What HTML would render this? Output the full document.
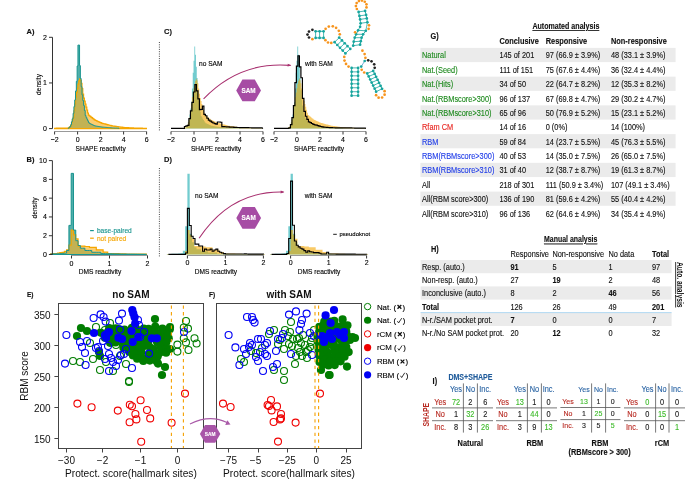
<!DOCTYPE html>
<html><head><meta charset="utf-8"><style>
html,body{margin:0;padding:0;background:#fff;}
svg{display:block;will-change:transform;}
text{font-family:"Liberation Sans", sans-serif;}
</style></head><body>
<svg width="685" height="486" viewBox="0 0 685 486">
<rect width="685" height="486" fill="#fff"/>
<path d="M54.60,128.60 L54.60,128.46 L55.40,128.46 L55.40,128.46 L56.21,128.46 L56.21,128.46 L57.01,128.46 L57.01,128.45 L57.82,128.45 L57.82,128.45 L58.62,128.45 L58.62,128.45 L59.43,128.45 L59.43,128.45 L60.23,128.45 L60.23,128.44 L61.04,128.44 L61.04,128.44 L61.84,128.44 L61.84,128.44 L62.65,128.44 L62.65,128.44 L63.45,128.44 L63.45,128.43 L64.26,128.43 L64.26,128.43 L65.06,128.43 L65.06,128.43 L65.87,128.43 L65.87,128.42 L66.67,128.42 L66.67,128.42 L67.48,128.42 L67.48,128.42 L68.28,128.42 L68.28,128.15 L69.09,128.15 L69.09,127.42 L69.89,127.42 L69.89,126.68 L70.70,126.68 L70.70,124.80 L71.50,124.80 L71.50,121.76 L72.31,121.76 L72.31,118.73 L73.11,118.73 L73.11,113.33 L73.92,113.33 L73.92,106.62 L74.72,106.62 L74.72,99.91 L75.53,99.91 L75.53,90.94 L76.33,90.94 L76.33,81.35 L77.14,81.35 L77.14,66.01 L77.94,66.01 L77.94,45.06 L78.75,45.06 L78.75,45.06 L79.55,45.06 L79.55,65.64 L80.36,65.64 L80.36,78.51 L81.16,78.51 L81.16,86.70 L81.97,86.70 L81.97,94.89 L82.77,94.89 L82.77,100.55 L83.58,100.55 L83.58,105.52 L84.38,105.52 L84.38,110.49 L85.19,110.49 L85.19,115.46 L86.00,115.46 L86.00,117.40 L86.80,117.40 L86.80,119.10 L87.60,119.10 L87.60,120.81 L88.41,120.81 L88.41,122.51 L89.22,122.51 L89.22,123.37 L90.02,123.37 L90.02,123.75 L90.83,123.75 L90.83,124.14 L91.63,124.14 L91.63,124.52 L92.44,124.52 L92.44,124.90 L93.24,124.90 L93.24,125.29 L94.04,125.29 L94.04,125.67 L94.85,125.67 L94.85,125.93 L95.66,125.93 L95.66,126.06 L96.46,126.06 L96.46,126.19 L97.27,126.19 L97.27,126.33 L98.07,126.33 L98.07,126.46 L98.88,126.46 L98.88,126.59 L99.68,126.59 L99.68,126.73 L100.48,126.73 L100.48,126.86 L101.29,126.86 L101.29,126.99 L102.09,126.99 L102.09,127.07 L102.90,127.07 L102.90,127.14 L103.70,127.14 L103.70,127.21 L104.51,127.21 L104.51,127.28 L105.31,127.28 L105.31,127.35 L106.12,127.35 L106.12,127.42 L106.93,127.42 L106.93,127.49 L107.73,127.49 L107.73,127.57 L108.53,127.57 L108.53,127.64 L109.34,127.64 L109.34,127.71 L110.14,127.71 L110.14,127.78 L110.95,127.78 L110.95,127.85 L111.75,127.85 L111.75,127.92 L112.56,127.92 L112.56,127.95 L113.36,127.95 L113.36,127.97 L114.17,127.97 L114.17,128.00 L114.97,128.00 L114.97,128.03 L115.78,128.03 L115.78,128.06 L116.59,128.06 L116.59,128.09 L117.39,128.09 L117.39,128.12 L118.19,128.12 L118.19,128.15 L119.00,128.15 L119.00,128.18 L119.81,128.18 L119.81,128.20 L120.61,128.20 L120.61,128.23 L121.41,128.23 L121.41,128.26 L122.22,128.26 L122.22,128.29 L123.03,128.29 L123.03,128.32 L123.83,128.32 L123.83,128.33 L124.64,128.33 L124.64,128.34 L125.44,128.34 L125.44,128.34 L126.25,128.34 L126.25,128.35 L127.05,128.35 L127.05,128.36 L127.86,128.36 L127.86,128.36 L128.66,128.36 L128.66,128.37 L129.47,128.37 L129.47,128.38 L130.27,128.38 L130.27,128.38 L131.07,128.38 L131.07,128.39 L131.88,128.39 L131.88,128.40 L132.69,128.40 L132.69,128.40 L133.49,128.40 L133.49,128.41 L134.30,128.41 L134.30,128.41 L135.10,128.41 L135.10,128.42 L135.91,128.42 L135.91,128.43 L136.71,128.43 L136.71,128.43 L137.51,128.43 L137.51,128.44 L138.32,128.44 L138.32,128.45 L139.12,128.45 L139.12,128.45 L139.93,128.45 L139.93,128.46 L140.74,128.46 L140.74,128.47 L141.54,128.47 L141.54,128.47 L142.34,128.47 L142.34,128.48 L143.15,128.48 L143.15,128.48 L143.95,128.48 L143.95,128.49 L144.76,128.49 L144.76,128.50 L145.56,128.50 L145.56,128.50 L146.37,128.50 L146.37,128.60 Z" fill="rgba(24,148,143,0.75)" stroke="none"/>
<path d="M54.60,128.60 L54.60,128.23 L55.40,128.23 L55.40,128.23 L56.21,128.23 L56.21,128.22 L57.01,128.22 L57.01,128.22 L57.82,128.22 L57.82,128.21 L58.62,128.21 L58.62,128.21 L59.43,128.21 L59.43,128.20 L60.23,128.20 L60.23,128.19 L61.04,128.19 L61.04,128.19 L61.84,128.19 L61.84,128.18 L62.65,128.18 L62.65,128.18 L63.45,128.18 L63.45,128.17 L64.26,128.17 L64.26,128.17 L65.06,128.17 L65.06,128.16 L65.87,128.16 L65.87,128.16 L66.67,128.16 L66.67,128.15 L67.48,128.15 L67.48,128.15 L68.28,128.15 L68.28,127.92 L69.09,127.92 L69.09,127.28 L69.89,127.28 L69.89,126.64 L70.70,126.64 L70.70,125.04 L71.50,125.04 L71.50,122.48 L72.31,122.48 L72.31,119.93 L73.11,119.93 L73.11,117.37 L73.92,117.37 L73.92,110.83 L74.72,110.83 L74.72,103.98 L75.53,103.98 L75.53,97.13 L76.33,97.13 L76.33,92.69 L77.14,92.69 L77.14,88.43 L77.94,88.43 L77.94,84.17 L78.75,84.17 L78.75,80.97 L79.55,80.97 L79.55,78.84 L80.36,78.84 L80.36,80.48 L81.16,80.48 L81.16,83.33 L81.97,83.33 L81.97,88.66 L82.77,88.66 L82.77,93.98 L83.58,93.98 L83.58,98.13 L84.38,98.13 L84.38,101.10 L85.19,101.10 L85.19,104.08 L86.00,104.08 L86.00,107.05 L86.80,107.05 L86.80,110.02 L87.60,110.02 L87.60,112.99 L88.41,112.99 L88.41,115.13 L89.22,115.13 L89.22,115.77 L90.02,115.77 L90.02,116.41 L90.83,116.41 L90.83,117.05 L91.63,117.05 L91.63,117.69 L92.44,117.69 L92.44,118.33 L93.24,118.33 L93.24,118.97 L94.04,118.97 L94.04,119.61 L94.85,119.61 L94.85,120.11 L95.66,120.11 L95.66,120.49 L96.46,120.49 L96.46,120.86 L97.27,120.86 L97.27,121.23 L98.07,121.23 L98.07,121.60 L98.88,121.60 L98.88,121.98 L99.68,121.98 L99.68,122.35 L100.48,122.35 L100.48,122.72 L101.29,122.72 L101.29,123.10 L102.09,123.10 L102.09,123.32 L102.90,123.32 L102.90,123.53 L103.70,123.53 L103.70,123.75 L104.51,123.75 L104.51,123.96 L105.31,123.96 L105.31,124.17 L106.12,124.17 L106.12,124.38 L106.93,124.38 L106.93,124.60 L107.73,124.60 L107.73,124.81 L108.53,124.81 L108.53,125.02 L109.34,125.02 L109.34,125.24 L110.14,125.24 L110.14,125.45 L110.95,125.45 L110.95,125.66 L111.75,125.66 L111.75,125.87 L112.56,125.87 L112.56,125.98 L113.36,125.98 L113.36,126.09 L114.17,126.09 L114.17,126.20 L114.97,126.20 L114.97,126.32 L115.78,126.32 L115.78,126.43 L116.59,126.43 L116.59,126.54 L117.39,126.54 L117.39,126.65 L118.19,126.65 L118.19,126.76 L119.00,126.76 L119.00,126.88 L119.81,126.88 L119.81,126.99 L120.61,126.99 L120.61,127.10 L121.41,127.10 L121.41,127.21 L122.22,127.21 L122.22,127.32 L123.03,127.32 L123.03,127.43 L123.83,127.43 L123.83,127.49 L124.64,127.49 L124.64,127.53 L125.44,127.53 L125.44,127.57 L126.25,127.57 L126.25,127.62 L127.05,127.62 L127.05,127.66 L127.86,127.66 L127.86,127.70 L128.66,127.70 L128.66,127.74 L129.47,127.74 L129.47,127.78 L130.27,127.78 L130.27,127.82 L131.07,127.82 L131.07,127.87 L131.88,127.87 L131.88,127.91 L132.69,127.91 L132.69,127.95 L133.49,127.95 L133.49,127.99 L134.30,127.99 L134.30,128.03 L135.10,128.03 L135.10,128.06 L135.91,128.06 L135.91,128.08 L136.71,128.08 L136.71,128.10 L137.51,128.10 L137.51,128.12 L138.32,128.12 L138.32,128.14 L139.12,128.14 L139.12,128.16 L139.93,128.16 L139.93,128.18 L140.74,128.18 L140.74,128.20 L141.54,128.20 L141.54,128.22 L142.34,128.22 L142.34,128.23 L143.15,128.23 L143.15,128.25 L143.95,128.25 L143.95,128.27 L144.76,128.27 L144.76,128.29 L145.56,128.29 L145.56,128.31 L146.37,128.31 L146.37,128.60 Z" fill="rgba(250,180,40,0.667)" stroke="#f5a600" stroke-width="1.2"/>
<path d="M68.28,128.60 L68.28,128.15 L69.09,128.15 L69.09,127.42 L69.89,127.42 L69.89,126.68 L70.70,126.68 L70.70,124.80 L71.50,124.80 L71.50,121.76 L72.31,121.76 L72.31,118.73 L73.11,118.73 L73.11,113.33 L73.92,113.33 L73.92,106.62 L74.72,106.62 L74.72,99.91 L75.53,99.91 L75.53,90.94 L76.33,90.94 L76.33,81.35 L77.14,81.35 L77.14,66.01 L77.94,66.01 L77.94,45.06 L78.75,45.06 L78.75,45.06 L79.55,45.06 L79.55,65.64 L80.36,65.64 L80.36,78.51 L81.16,78.51 L81.16,86.70 L81.97,86.70 L81.97,94.89 L82.77,94.89 L82.77,100.55 L83.58,100.55 L83.58,105.52 L84.38,105.52 L84.38,110.49 L85.19,110.49 L85.19,115.46 L86.00,115.46 L86.00,117.40 L86.80,117.40 L86.80,119.10 L87.60,119.10 L87.60,120.81 L88.41,120.81 L88.41,122.51 L89.22,122.51 L89.22,123.37 L90.02,123.37 L90.02,123.75 L90.83,123.75 L90.83,124.14 L91.63,124.14 L91.63,124.52 L92.44,124.52 L92.44,124.90 L93.24,124.90 L93.24,125.29 L94.04,125.29 L94.04,125.67 L94.85,125.67 L94.85,125.93 L95.66,125.93 L95.66,126.06 L96.46,126.06 L96.46,126.19 L97.27,126.19 L97.27,126.33 L98.07,126.33 L98.07,126.46 L98.88,126.46 L98.88,126.59 L99.68,126.59 L99.68,126.73 L100.48,126.73 L100.48,126.86 L101.29,126.86 L101.29,126.99 L102.09,126.99 L102.09,127.07 L102.90,127.07 L102.90,127.14 L103.70,127.14 L103.70,127.21 L104.51,127.21 L104.51,127.28 L105.31,127.28 L105.31,127.35 L106.12,127.35 L106.12,127.42 L106.93,127.42 L106.93,127.49 L107.73,127.49 L107.73,127.57 L108.53,127.57 L108.53,127.64 L109.34,127.64 L109.34,127.71 L110.14,127.71 L110.14,127.78 L110.95,127.78 L110.95,127.85 L111.75,127.85 L111.75,127.92 L112.56,127.92 L112.56,127.95 L113.36,127.95 L113.36,127.97 L114.17,127.97 L114.17,128.00 L114.97,128.00 L114.97,128.03 L115.78,128.03 L115.78,128.06 L116.59,128.06 L116.59,128.09 L117.39,128.09 L117.39,128.12 L118.19,128.12 L118.19,128.15 L119.00,128.15 L119.00,128.60" fill="none" stroke="#18948f" stroke-width="1"/>
<line x1="52.50" y1="37.30" x2="52.50" y2="128.60" stroke="#333" stroke-width="1"/>
<line x1="49.00" y1="128.60" x2="52.50" y2="128.60" stroke="#333" stroke-width="1"/>
<text x="47.00" y="131.12" font-size="7" text-anchor="end" fill="#000" stroke="#000" stroke-width="0.12">0</text>
<line x1="49.00" y1="82.95" x2="52.50" y2="82.95" stroke="#333" stroke-width="1"/>
<text x="47.00" y="85.47" font-size="7" text-anchor="end" fill="#000" stroke="#000" stroke-width="0.12">1</text>
<line x1="49.00" y1="37.30" x2="52.50" y2="37.30" stroke="#333" stroke-width="1"/>
<text x="47.00" y="39.82" font-size="7" text-anchor="end" fill="#000" stroke="#000" stroke-width="0.12">2</text>
<line x1="54.60" y1="131.50" x2="146.60" y2="131.50" stroke="#999" stroke-width="1"/>
<line x1="54.60" y1="131.50" x2="54.60" y2="134.50" stroke="#333" stroke-width="1"/>
<text x="54.60" y="142.32" font-size="7" text-anchor="middle" fill="#000" stroke="#000" stroke-width="0.12">−2</text>
<line x1="77.60" y1="131.50" x2="77.60" y2="134.50" stroke="#333" stroke-width="1"/>
<text x="77.60" y="142.32" font-size="7" text-anchor="middle" fill="#000" stroke="#000" stroke-width="0.12">0</text>
<line x1="100.60" y1="131.50" x2="100.60" y2="134.50" stroke="#333" stroke-width="1"/>
<text x="100.60" y="142.32" font-size="7" text-anchor="middle" fill="#000" stroke="#000" stroke-width="0.12">2</text>
<line x1="123.60" y1="131.50" x2="123.60" y2="134.50" stroke="#333" stroke-width="1"/>
<text x="123.60" y="142.32" font-size="7" text-anchor="middle" fill="#000" stroke="#000" stroke-width="0.12">4</text>
<line x1="146.60" y1="131.50" x2="146.60" y2="134.50" stroke="#333" stroke-width="1"/>
<text x="146.60" y="142.32" font-size="7" text-anchor="middle" fill="#000" stroke="#000" stroke-width="0.12">6</text>
<text x="100.60" y="150.78" font-size="6.6" text-anchor="middle" fill="#000" stroke="#000" stroke-width="0.12">SHAPE reactivity</text>
<text transform="translate(38.40,84.50) rotate(-90) scale(1.0,1)" y="2.38" font-size="6.6" text-anchor="middle" fill="#000" stroke="#000" stroke-width="0.12">density</text>
<text x="26.50" y="34.20" font-size="7.5" text-anchor="start" fill="#111" font-weight="bold" stroke="#111" stroke-width="0.12">A)</text>
<path d="M50.68,254.50 L50.68,253.95 L52.96,253.95 L52.96,253.90 L55.24,253.90 L55.24,253.84 L57.52,253.84 L57.52,253.78 L59.80,253.78 L59.80,253.65 L62.08,253.65 L62.08,253.39 L64.36,253.39 L64.36,253.13 L66.64,253.13 L66.64,250.46 L68.92,250.46 L68.92,225.39 L71.20,225.39 L71.20,173.37 L73.48,173.37 L73.48,230.09 L75.76,230.09 L75.76,240.70 L78.04,240.70 L78.04,245.49 L80.32,245.49 L80.32,248.21 L82.60,248.21 L82.60,248.21 L84.88,248.21 L84.88,250.46 L87.16,250.46 L87.16,250.46 L89.44,250.46 L89.44,250.46 L91.72,250.46 L91.72,252.25 L94.00,252.25 L94.00,252.25 L96.28,252.25 L96.28,252.25 L98.56,252.25 L98.56,252.25 L100.84,252.25 L100.84,253.59 L103.12,253.59 L103.12,253.64 L105.40,253.64 L105.40,253.69 L107.68,253.69 L107.68,253.73 L109.96,253.73 L109.96,253.79 L112.24,253.79 L112.24,253.84 L114.52,253.84 L114.52,253.90 L116.80,253.90 L116.80,253.96 L119.08,253.96 L119.08,254.01 L121.36,254.01 L121.36,254.05 L123.64,254.05 L123.64,254.07 L125.92,254.07 L125.92,254.10 L128.20,254.10 L128.20,254.12 L130.48,254.12 L130.48,254.14 L132.76,254.14 L132.76,254.17 L135.04,254.17 L135.04,254.19 L137.32,254.19 L137.32,254.22 L139.60,254.22 L139.60,254.24 L141.88,254.24 L141.88,254.26 L144.16,254.26 L144.16,254.29 L146.44,254.29 L146.44,254.50 Z" fill="rgba(24,148,143,0.75)" stroke="none"/>
<path d="M50.68,254.50 L50.68,253.78 L52.96,253.78 L52.96,253.67 L55.24,253.67 L55.24,253.55 L57.52,253.55 L57.52,253.12 L59.80,253.12 L59.80,252.70 L62.08,252.70 L62.08,252.28 L64.36,252.28 L64.36,251.41 L66.64,251.41 L66.64,249.81 L68.92,249.81 L68.92,245.11 L71.20,245.11 L71.20,230.09 L73.48,230.09 L73.48,234.78 L75.76,234.78 L75.76,238.91 L78.04,238.91 L78.04,246.05 L80.32,246.05 L80.32,246.05 L82.60,246.05 L82.60,246.05 L84.88,246.05 L84.88,246.52 L87.16,246.52 L87.16,246.52 L89.44,246.52 L89.44,247.46 L91.72,247.46 L91.72,247.46 L94.00,247.46 L94.00,247.46 L96.28,247.46 L96.28,249.81 L98.56,249.81 L98.56,249.81 L100.84,249.81 L100.84,249.81 L103.12,249.81 L103.12,252.15 L105.40,252.15 L105.40,252.15 L107.68,252.15 L107.68,253.57 L109.96,253.57 L109.96,253.60 L112.24,253.60 L112.24,253.64 L114.52,253.64 L114.52,253.67 L116.80,253.67 L116.80,253.70 L119.08,253.70 L119.08,253.74 L121.36,253.74 L121.36,253.81 L123.64,253.81 L123.64,253.89 L125.92,253.89 L125.92,253.98 L128.20,253.98 L128.20,254.03 L130.48,254.03 L130.48,254.05 L132.76,254.05 L132.76,254.06 L135.04,254.06 L135.04,254.07 L137.32,254.07 L137.32,254.08 L139.60,254.08 L139.60,254.09 L141.88,254.09 L141.88,254.10 L144.16,254.10 L144.16,254.11 L146.44,254.11 L146.44,254.50 Z" fill="rgba(250,180,40,0.667)" stroke="#f5a600" stroke-width="1.2"/>
<path d="M50.68,254.50 L50.68,253.95 L52.96,253.95 L52.96,253.90 L55.24,253.90 L55.24,253.84 L57.52,253.84 L57.52,253.78 L59.80,253.78 L59.80,253.65 L62.08,253.65 L62.08,253.39 L64.36,253.39 L64.36,253.13 L66.64,253.13 L66.64,250.46 L68.92,250.46 L68.92,225.39 L71.20,225.39 L71.20,173.37 L73.48,173.37 L73.48,230.09 L75.76,230.09 L75.76,240.70 L78.04,240.70 L78.04,245.49 L80.32,245.49 L80.32,248.21 L82.60,248.21 L82.60,248.21 L84.88,248.21 L84.88,250.46 L87.16,250.46 L87.16,250.46 L89.44,250.46 L89.44,250.46 L91.72,250.46 L91.72,252.25 L94.00,252.25 L94.00,252.25 L96.28,252.25 L96.28,252.25 L98.56,252.25 L98.56,252.25 L100.84,252.25 L100.84,253.59 L103.12,253.59 L103.12,253.64 L105.40,253.64 L105.40,253.69 L107.68,253.69 L107.68,253.73 L109.96,253.73 L109.96,253.79 L112.24,253.79 L112.24,253.84 L114.52,253.84 L114.52,253.90 L116.80,253.90 L116.80,253.96 L119.08,253.96 L119.08,254.01 L121.36,254.01 L121.36,254.05 L123.64,254.05 L123.64,254.07 L125.92,254.07 L125.92,254.10 L128.20,254.10 L128.20,254.12 L130.48,254.12 L130.48,254.14 L132.76,254.14 L132.76,254.17 L135.04,254.17 L135.04,254.19 L137.32,254.19 L137.32,254.22 L139.60,254.22 L139.60,254.24 L141.88,254.24 L141.88,254.26 L144.16,254.26 L144.16,254.29 L146.44,254.29 L146.44,254.50 Z" fill="none" stroke="#18948f" stroke-width="1"/>
<line x1="52.40" y1="160.60" x2="52.40" y2="254.50" stroke="#333" stroke-width="1"/>
<line x1="48.90" y1="254.50" x2="52.40" y2="254.50" stroke="#333" stroke-width="1"/>
<text x="46.90" y="257.02" font-size="7" text-anchor="end" fill="#000" stroke="#000" stroke-width="0.12">0</text>
<line x1="48.90" y1="235.72" x2="52.40" y2="235.72" stroke="#333" stroke-width="1"/>
<text x="46.90" y="238.24" font-size="7" text-anchor="end" fill="#000" stroke="#000" stroke-width="0.12">2</text>
<line x1="48.90" y1="216.94" x2="52.40" y2="216.94" stroke="#333" stroke-width="1"/>
<text x="46.90" y="219.46" font-size="7" text-anchor="end" fill="#000" stroke="#000" stroke-width="0.12">4</text>
<line x1="48.90" y1="198.16" x2="52.40" y2="198.16" stroke="#333" stroke-width="1"/>
<text x="46.90" y="200.68" font-size="7" text-anchor="end" fill="#000" stroke="#000" stroke-width="0.12">6</text>
<line x1="48.90" y1="179.38" x2="52.40" y2="179.38" stroke="#333" stroke-width="1"/>
<text x="46.90" y="181.90" font-size="7" text-anchor="end" fill="#000" stroke="#000" stroke-width="0.12">8</text>
<line x1="48.90" y1="160.60" x2="52.40" y2="160.60" stroke="#333" stroke-width="1"/>
<text x="46.90" y="163.12" font-size="7" text-anchor="end" fill="#000" stroke="#000" stroke-width="0.12">10</text>
<line x1="71.50" y1="255.50" x2="147.50" y2="255.50" stroke="#999" stroke-width="1"/>
<line x1="71.50" y1="255.50" x2="71.50" y2="258.50" stroke="#333" stroke-width="1"/>
<text x="71.50" y="265.92" font-size="7" text-anchor="middle" fill="#000" stroke="#000" stroke-width="0.12">0</text>
<line x1="109.50" y1="255.50" x2="109.50" y2="258.50" stroke="#333" stroke-width="1"/>
<text x="109.50" y="265.92" font-size="7" text-anchor="middle" fill="#000" stroke="#000" stroke-width="0.12">1</text>
<line x1="147.50" y1="255.50" x2="147.50" y2="258.50" stroke="#333" stroke-width="1"/>
<text x="147.50" y="265.92" font-size="7" text-anchor="middle" fill="#000" stroke="#000" stroke-width="0.12">2</text>
<text x="100.00" y="274.38" font-size="6.6" text-anchor="middle" fill="#000" stroke="#000" stroke-width="0.12">DMS reactivity</text>
<text transform="translate(34.40,208.00) rotate(-90) scale(1.0,1)" y="2.38" font-size="6.6" text-anchor="middle" fill="#000" stroke="#000" stroke-width="0.12">density</text>
<text x="26.50" y="162.30" font-size="7.5" text-anchor="start" fill="#111" font-weight="bold" stroke="#111" stroke-width="0.12">B)</text>
<line x1="90.10" y1="230.60" x2="93.80" y2="230.60" stroke="#18948f" stroke-width="1.2"/>
<text x="96.90" y="232.98" font-size="6.6" text-anchor="start" fill="#18948f" stroke="#18948f" stroke-width="0.12">base-paired</text>
<line x1="90.10" y1="238.20" x2="93.80" y2="238.20" stroke="#f5a600" stroke-width="1.2"/>
<text x="96.90" y="240.58" font-size="6.6" text-anchor="start" fill="#f5a600" stroke="#f5a600" stroke-width="0.12">not paired</text>
<path d="M171.00,128.40 L171.00,128.40 L171.81,128.40 L171.81,128.40 L172.61,128.40 L172.61,128.40 L173.41,128.40 L173.41,128.40 L174.22,128.40 L174.22,128.40 L175.03,128.40 L175.03,128.40 L175.83,128.40 L175.83,128.40 L176.63,128.40 L176.63,128.40 L177.44,128.40 L177.44,128.40 L178.25,128.40 L178.25,128.40 L179.05,128.40 L179.05,128.40 L179.85,128.40 L179.85,128.40 L180.66,128.40 L180.66,128.40 L181.47,128.40 L181.47,128.40 L182.27,128.40 L182.27,128.40 L183.07,128.40 L183.07,128.40 L183.88,128.40 L183.88,128.40 L184.69,128.40 L184.69,128.17 L185.49,128.17 L185.49,127.53 L186.29,127.53 L186.29,126.89 L187.10,126.89 L187.10,125.14 L187.91,125.14 L187.91,122.26 L188.71,122.26 L188.71,119.38 L189.52,119.38 L189.52,114.45 L190.32,114.45 L190.32,108.38 L191.12,108.38 L191.12,102.31 L191.93,102.31 L191.93,88.46 L192.74,88.46 L192.74,72.76 L193.54,72.76 L193.54,60.78 L194.34,60.78 L194.34,46.57 L195.15,46.57 L195.15,54.79 L195.96,54.79 L195.96,66.77 L196.76,66.77 L196.76,78.01 L197.56,78.01 L197.56,90.30 L198.37,90.30 L198.37,99.50 L199.18,99.50 L199.18,105.60 L199.98,105.60 L199.98,111.70 L200.78,111.70 L200.78,116.07 L201.59,116.07 L201.59,117.35 L202.40,117.35 L202.40,118.63 L203.20,118.63 L203.20,119.91 L204.00,119.91 L204.00,121.19 L204.81,121.19 L204.81,122.47 L205.62,122.47 L205.62,123.17 L206.42,123.17 L206.42,123.55 L207.22,123.55 L207.22,123.94 L208.03,123.94 L208.03,124.32 L208.84,124.32 L208.84,124.70 L209.64,124.70 L209.64,125.09 L210.44,125.09 L210.44,125.47 L211.25,125.47 L211.25,125.73 L212.06,125.73 L212.06,125.86 L212.86,125.86 L212.86,125.99 L213.67,125.99 L213.67,126.13 L214.47,126.13 L214.47,126.26 L215.28,126.26 L215.28,126.39 L216.08,126.39 L216.08,126.53 L216.88,126.53 L216.88,126.66 L217.69,126.66 L217.69,126.79 L218.50,126.79 L218.50,126.87 L219.30,126.87 L219.30,126.94 L220.11,126.94 L220.11,127.01 L220.91,127.01 L220.91,127.08 L221.72,127.08 L221.72,127.15 L222.52,127.15 L222.52,127.22 L223.33,127.22 L223.33,127.29 L224.13,127.29 L224.13,127.37 L224.94,127.37 L224.94,127.44 L225.74,127.44 L225.74,127.51 L226.55,127.51 L226.55,127.58 L227.35,127.58 L227.35,127.65 L228.16,127.65 L228.16,127.72 L228.96,127.72 L228.96,127.75 L229.76,127.75 L229.76,127.77 L230.57,127.77 L230.57,127.80 L231.38,127.80 L231.38,127.83 L232.18,127.83 L232.18,127.86 L232.99,127.86 L232.99,127.89 L233.79,127.89 L233.79,127.92 L234.59,127.92 L234.59,127.95 L235.40,127.95 L235.40,127.98 L236.21,127.98 L236.21,128.00 L237.01,128.00 L237.01,128.03 L237.81,128.03 L237.81,128.06 L238.62,128.06 L238.62,128.09 L239.43,128.09 L239.43,128.12 L240.23,128.12 L240.23,128.13 L241.04,128.13 L241.04,128.14 L241.84,128.14 L241.84,128.14 L242.65,128.14 L242.65,128.15 L243.45,128.15 L243.45,128.16 L244.25,128.16 L244.25,128.16 L245.06,128.16 L245.06,128.17 L245.87,128.17 L245.87,128.18 L246.67,128.18 L246.67,128.18 L247.47,128.18 L247.47,128.19 L248.28,128.19 L248.28,128.20 L249.09,128.20 L249.09,128.20 L249.89,128.20 L249.89,128.21 L250.69,128.21 L250.69,128.21 L251.50,128.21 L251.50,128.22 L252.31,128.22 L252.31,128.23 L253.11,128.23 L253.11,128.23 L253.92,128.23 L253.92,128.24 L254.72,128.24 L254.72,128.25 L255.53,128.25 L255.53,128.25 L256.33,128.25 L256.33,128.26 L257.13,128.26 L257.13,128.27 L257.94,128.27 L257.94,128.27 L258.75,128.27 L258.75,128.28 L259.55,128.28 L259.55,128.28 L260.36,128.28 L260.36,128.29 L261.16,128.29 L261.16,128.30 L261.97,128.30 L261.97,128.30 L262.77,128.30 L262.77,128.40 Z" fill="rgba(20,170,175,0.6)" stroke="none"/>
<path d="M171.00,128.40 L171.00,128.03 L171.81,128.03 L171.81,128.03 L172.61,128.03 L172.61,128.02 L173.41,128.02 L173.41,128.02 L174.22,128.02 L174.22,128.01 L175.03,128.01 L175.03,128.01 L175.83,128.01 L175.83,128.00 L176.63,128.00 L176.63,127.99 L177.44,127.99 L177.44,127.99 L178.25,127.99 L178.25,127.98 L179.05,127.98 L179.05,127.98 L179.85,127.98 L179.85,127.97 L180.66,127.97 L180.66,127.97 L181.47,127.97 L181.47,127.96 L182.27,127.96 L182.27,127.96 L183.07,127.96 L183.07,127.95 L183.88,127.95 L183.88,127.95 L184.69,127.95 L184.69,127.72 L185.49,127.72 L185.49,127.08 L186.29,127.08 L186.29,126.44 L187.10,126.44 L187.10,124.84 L187.91,124.84 L187.91,122.28 L188.71,122.28 L188.71,119.73 L189.52,119.73 L189.52,117.17 L190.32,117.17 L190.32,110.63 L191.12,110.63 L191.12,103.78 L191.93,103.78 L191.93,96.93 L192.74,96.93 L192.74,92.49 L193.54,92.49 L193.54,88.23 L194.34,88.23 L194.34,83.97 L195.15,83.97 L195.15,80.77 L195.96,80.77 L195.96,78.64 L196.76,78.64 L196.76,80.28 L197.56,80.28 L197.56,83.13 L198.37,83.13 L198.37,88.46 L199.18,88.46 L199.18,93.78 L199.98,93.78 L199.98,97.93 L200.78,97.93 L200.78,100.90 L201.59,100.90 L201.59,103.88 L202.40,103.88 L202.40,106.85 L203.20,106.85 L203.20,109.82 L204.00,109.82 L204.00,112.79 L204.81,112.79 L204.81,114.93 L205.62,114.93 L205.62,115.57 L206.42,115.57 L206.42,116.21 L207.22,116.21 L207.22,116.85 L208.03,116.85 L208.03,117.49 L208.84,117.49 L208.84,118.13 L209.64,118.13 L209.64,118.77 L210.44,118.77 L210.44,119.41 L211.25,119.41 L211.25,119.91 L212.06,119.91 L212.06,120.29 L212.86,120.29 L212.86,120.66 L213.67,120.66 L213.67,121.03 L214.47,121.03 L214.47,121.40 L215.28,121.40 L215.28,121.78 L216.08,121.78 L216.08,122.15 L216.88,122.15 L216.88,122.52 L217.69,122.52 L217.69,122.90 L218.50,122.90 L218.50,123.12 L219.30,123.12 L219.30,123.33 L220.11,123.33 L220.11,123.55 L220.91,123.55 L220.91,123.76 L221.72,123.76 L221.72,123.97 L222.52,123.97 L222.52,124.18 L223.33,124.18 L223.33,124.40 L224.13,124.40 L224.13,124.61 L224.94,124.61 L224.94,124.82 L225.74,124.82 L225.74,125.04 L226.55,125.04 L226.55,125.25 L227.35,125.25 L227.35,125.46 L228.16,125.46 L228.16,125.67 L228.96,125.67 L228.96,125.78 L229.76,125.78 L229.76,125.89 L230.57,125.89 L230.57,126.00 L231.38,126.00 L231.38,126.12 L232.18,126.12 L232.18,126.23 L232.99,126.23 L232.99,126.34 L233.79,126.34 L233.79,126.45 L234.59,126.45 L234.59,126.56 L235.40,126.56 L235.40,126.68 L236.21,126.68 L236.21,126.79 L237.01,126.79 L237.01,126.90 L237.81,126.90 L237.81,127.01 L238.62,127.01 L238.62,127.12 L239.43,127.12 L239.43,127.23 L240.23,127.23 L240.23,127.29 L241.04,127.29 L241.04,127.33 L241.84,127.33 L241.84,127.37 L242.65,127.37 L242.65,127.42 L243.45,127.42 L243.45,127.46 L244.25,127.46 L244.25,127.50 L245.06,127.50 L245.06,127.54 L245.87,127.54 L245.87,127.58 L246.67,127.58 L246.67,127.62 L247.47,127.62 L247.47,127.67 L248.28,127.67 L248.28,127.71 L249.09,127.71 L249.09,127.75 L249.89,127.75 L249.89,127.79 L250.69,127.79 L250.69,127.83 L251.50,127.83 L251.50,127.86 L252.31,127.86 L252.31,127.88 L253.11,127.88 L253.11,127.90 L253.92,127.90 L253.92,127.92 L254.72,127.92 L254.72,127.94 L255.53,127.94 L255.53,127.96 L256.33,127.96 L256.33,127.98 L257.13,127.98 L257.13,128.00 L257.94,128.00 L257.94,128.02 L258.75,128.02 L258.75,128.03 L259.55,128.03 L259.55,128.05 L260.36,128.05 L260.36,128.07 L261.16,128.07 L261.16,128.09 L261.97,128.09 L261.97,128.11 L262.77,128.11 L262.77,128.40 Z" fill="rgba(245,166,0,0.6)" stroke="none"/>
<path d="M171.00,128.40 L171.00,128.40 L172.50,128.40 L172.50,128.40 L173.99,128.40 L173.99,128.40 L175.49,128.40 L175.49,128.40 L176.98,128.40 L176.98,128.40 L178.47,128.40 L178.47,128.40 L179.97,128.40 L179.97,128.40 L181.47,128.40 L181.47,128.40 L182.96,128.40 L182.96,128.32 L184.45,128.32 L184.45,126.51 L185.95,126.51 L185.95,125.91 L187.44,125.91 L187.44,125.32 L188.94,125.32 L188.94,118.61 L190.44,118.61 L190.44,110.82 L191.93,110.82 L191.93,102.30 L193.43,102.30 L193.43,92.00 L194.92,92.00 L194.92,84.60 L196.41,84.60 L196.41,90.97 L197.91,90.97 L197.91,98.96 L199.41,98.96 L199.41,109.64 L200.90,109.64 L200.90,109.29 L202.40,109.29 L202.40,106.03 L203.89,106.03 L203.89,114.44 L205.38,114.44 L205.38,115.73 L206.88,115.73 L206.88,118.24 L208.38,118.24 L208.38,120.21 L209.87,120.21 L209.87,121.17 L211.37,121.17 L211.37,122.14 L212.86,122.14 L212.86,122.98 L214.35,122.98 L214.35,123.65 L215.85,123.65 L215.85,124.16 L217.34,124.16 L217.34,122.01 L218.84,122.01 L218.84,122.01 L220.34,122.01 L220.34,122.24 L221.83,122.24 L221.83,126.60 L223.32,126.60 L223.32,126.69 L224.82,126.69 L224.82,126.77 L226.31,126.77 L226.31,126.86 L227.81,126.86 L227.81,126.95 L229.31,126.95 L229.31,127.04 L230.80,127.04 L230.80,127.13 L232.30,127.13 L232.30,127.21 L233.79,127.21 L233.79,127.30 L235.28,127.30 L235.28,127.39 L236.78,127.39 L236.78,127.48 L238.28,127.48 L238.28,127.51 L239.77,127.51 L239.77,127.55 L241.26,127.55 L241.26,127.58 L242.76,127.58 L242.76,127.61 L244.25,127.61 L244.25,127.64 L245.75,127.64 L245.75,127.67 L247.25,127.67 L247.25,127.70 L248.74,127.70 L248.74,127.73 L250.24,127.73 L250.24,127.76 L251.73,127.76 L251.73,127.80 L253.22,127.80 L253.22,127.83 L254.72,127.83 L254.72,127.86 L256.22,127.86 L256.22,127.89 L257.71,127.89 L257.71,127.92 L259.20,127.92 L259.20,127.94 L260.70,127.94 L260.70,127.94 L262.19,127.94 L263.00,128.40" fill="none" stroke="#000" stroke-width="1.2"/>
<line x1="171.00" y1="131.50" x2="263.00" y2="131.50" stroke="#999" stroke-width="1"/>
<line x1="171.00" y1="131.50" x2="171.00" y2="134.50" stroke="#333" stroke-width="1"/>
<text x="171.00" y="142.32" font-size="7" text-anchor="middle" fill="#000" stroke="#000" stroke-width="0.12">−2</text>
<line x1="194.00" y1="131.50" x2="194.00" y2="134.50" stroke="#333" stroke-width="1"/>
<text x="194.00" y="142.32" font-size="7" text-anchor="middle" fill="#000" stroke="#000" stroke-width="0.12">0</text>
<line x1="217.00" y1="131.50" x2="217.00" y2="134.50" stroke="#333" stroke-width="1"/>
<text x="217.00" y="142.32" font-size="7" text-anchor="middle" fill="#000" stroke="#000" stroke-width="0.12">2</text>
<line x1="240.00" y1="131.50" x2="240.00" y2="134.50" stroke="#333" stroke-width="1"/>
<text x="240.00" y="142.32" font-size="7" text-anchor="middle" fill="#000" stroke="#000" stroke-width="0.12">4</text>
<line x1="263.00" y1="131.50" x2="263.00" y2="134.50" stroke="#333" stroke-width="1"/>
<text x="263.00" y="142.32" font-size="7" text-anchor="middle" fill="#000" stroke="#000" stroke-width="0.12">6</text>
<text x="216.00" y="150.78" font-size="6.6" text-anchor="middle" fill="#000" stroke="#000" stroke-width="0.12">SHAPE reactivity</text>
<text x="199.00" y="65.78" font-size="6.6" text-anchor="start" fill="#000" stroke="#000" stroke-width="0.12">no SAM</text>
<path d="M274.00,128.40 L274.00,128.40 L274.81,128.40 L274.81,128.40 L275.61,128.40 L275.61,128.40 L276.42,128.40 L276.42,128.40 L277.22,128.40 L277.22,128.40 L278.02,128.40 L278.02,128.40 L278.83,128.40 L278.83,128.40 L279.63,128.40 L279.63,128.40 L280.44,128.40 L280.44,128.40 L281.25,128.40 L281.25,128.40 L282.05,128.40 L282.05,128.40 L282.86,128.40 L282.86,128.40 L283.66,128.40 L283.66,128.40 L284.46,128.40 L284.46,128.40 L285.27,128.40 L285.27,128.40 L286.07,128.40 L286.07,128.40 L286.88,128.40 L286.88,128.40 L287.69,128.40 L287.69,128.17 L288.49,128.17 L288.49,127.53 L289.30,127.53 L289.30,126.89 L290.10,126.89 L290.10,125.14 L290.91,125.14 L290.91,122.26 L291.71,122.26 L291.71,119.38 L292.51,119.38 L292.51,114.45 L293.32,114.45 L293.32,108.38 L294.12,108.38 L294.12,102.31 L294.93,102.31 L294.93,88.46 L295.74,88.46 L295.74,72.76 L296.54,72.76 L296.54,60.78 L297.35,60.78 L297.35,46.57 L298.15,46.57 L298.15,54.79 L298.95,54.79 L298.95,66.77 L299.76,66.77 L299.76,78.01 L300.56,78.01 L300.56,90.30 L301.37,90.30 L301.37,99.50 L302.18,99.50 L302.18,105.60 L302.98,105.60 L302.98,111.70 L303.79,111.70 L303.79,116.07 L304.59,116.07 L304.59,117.35 L305.39,117.35 L305.39,118.63 L306.20,118.63 L306.20,119.91 L307.00,119.91 L307.00,121.19 L307.81,121.19 L307.81,122.47 L308.62,122.47 L308.62,123.17 L309.42,123.17 L309.42,123.55 L310.23,123.55 L310.23,123.94 L311.03,123.94 L311.03,124.32 L311.83,124.32 L311.83,124.70 L312.64,124.70 L312.64,125.09 L313.44,125.09 L313.44,125.47 L314.25,125.47 L314.25,125.73 L315.06,125.73 L315.06,125.86 L315.86,125.86 L315.86,125.99 L316.67,125.99 L316.67,126.13 L317.47,126.13 L317.47,126.26 L318.27,126.26 L318.27,126.39 L319.08,126.39 L319.08,126.53 L319.88,126.53 L319.88,126.66 L320.69,126.66 L320.69,126.79 L321.50,126.79 L321.50,126.87 L322.30,126.87 L322.30,126.94 L323.11,126.94 L323.11,127.01 L323.91,127.01 L323.91,127.08 L324.72,127.08 L324.72,127.15 L325.52,127.15 L325.52,127.22 L326.32,127.22 L326.32,127.29 L327.13,127.29 L327.13,127.37 L327.94,127.37 L327.94,127.44 L328.74,127.44 L328.74,127.51 L329.55,127.51 L329.55,127.58 L330.35,127.58 L330.35,127.65 L331.16,127.65 L331.16,127.72 L331.96,127.72 L331.96,127.75 L332.76,127.75 L332.76,127.77 L333.57,127.77 L333.57,127.80 L334.38,127.80 L334.38,127.83 L335.18,127.83 L335.18,127.86 L335.99,127.86 L335.99,127.89 L336.79,127.89 L336.79,127.92 L337.60,127.92 L337.60,127.95 L338.40,127.95 L338.40,127.98 L339.21,127.98 L339.21,128.00 L340.01,128.00 L340.01,128.03 L340.81,128.03 L340.81,128.06 L341.62,128.06 L341.62,128.09 L342.43,128.09 L342.43,128.12 L343.23,128.12 L343.23,128.13 L344.04,128.13 L344.04,128.14 L344.84,128.14 L344.84,128.14 L345.64,128.14 L345.64,128.15 L346.45,128.15 L346.45,128.16 L347.25,128.16 L347.25,128.16 L348.06,128.16 L348.06,128.17 L348.87,128.17 L348.87,128.18 L349.67,128.18 L349.67,128.18 L350.48,128.18 L350.48,128.19 L351.28,128.19 L351.28,128.20 L352.09,128.20 L352.09,128.20 L352.89,128.20 L352.89,128.21 L353.69,128.21 L353.69,128.21 L354.50,128.21 L354.50,128.22 L355.31,128.22 L355.31,128.23 L356.11,128.23 L356.11,128.23 L356.92,128.23 L356.92,128.24 L357.72,128.24 L357.72,128.25 L358.52,128.25 L358.52,128.25 L359.33,128.25 L359.33,128.26 L360.13,128.26 L360.13,128.27 L360.94,128.27 L360.94,128.27 L361.75,128.27 L361.75,128.28 L362.55,128.28 L362.55,128.28 L363.36,128.28 L363.36,128.29 L364.16,128.29 L364.16,128.30 L364.97,128.30 L364.97,128.30 L365.77,128.30 L365.77,128.40 Z" fill="rgba(20,170,175,0.6)" stroke="none"/>
<path d="M274.00,128.40 L274.00,128.03 L274.81,128.03 L274.81,128.03 L275.61,128.03 L275.61,128.02 L276.42,128.02 L276.42,128.02 L277.22,128.02 L277.22,128.01 L278.02,128.01 L278.02,128.01 L278.83,128.01 L278.83,128.00 L279.63,128.00 L279.63,127.99 L280.44,127.99 L280.44,127.99 L281.25,127.99 L281.25,127.98 L282.05,127.98 L282.05,127.98 L282.86,127.98 L282.86,127.97 L283.66,127.97 L283.66,127.97 L284.46,127.97 L284.46,127.96 L285.27,127.96 L285.27,127.96 L286.07,127.96 L286.07,127.95 L286.88,127.95 L286.88,127.95 L287.69,127.95 L287.69,127.72 L288.49,127.72 L288.49,127.08 L289.30,127.08 L289.30,126.44 L290.10,126.44 L290.10,124.84 L290.91,124.84 L290.91,122.28 L291.71,122.28 L291.71,119.73 L292.51,119.73 L292.51,117.17 L293.32,117.17 L293.32,110.63 L294.12,110.63 L294.12,103.78 L294.93,103.78 L294.93,96.93 L295.74,96.93 L295.74,92.49 L296.54,92.49 L296.54,88.23 L297.35,88.23 L297.35,83.97 L298.15,83.97 L298.15,80.77 L298.95,80.77 L298.95,78.64 L299.76,78.64 L299.76,80.28 L300.56,80.28 L300.56,83.13 L301.37,83.13 L301.37,88.46 L302.18,88.46 L302.18,93.78 L302.98,93.78 L302.98,97.93 L303.79,97.93 L303.79,100.90 L304.59,100.90 L304.59,103.88 L305.39,103.88 L305.39,106.85 L306.20,106.85 L306.20,109.82 L307.00,109.82 L307.00,112.79 L307.81,112.79 L307.81,114.93 L308.62,114.93 L308.62,115.57 L309.42,115.57 L309.42,116.21 L310.23,116.21 L310.23,116.85 L311.03,116.85 L311.03,117.49 L311.83,117.49 L311.83,118.13 L312.64,118.13 L312.64,118.77 L313.44,118.77 L313.44,119.41 L314.25,119.41 L314.25,119.91 L315.06,119.91 L315.06,120.29 L315.86,120.29 L315.86,120.66 L316.67,120.66 L316.67,121.03 L317.47,121.03 L317.47,121.40 L318.27,121.40 L318.27,121.78 L319.08,121.78 L319.08,122.15 L319.88,122.15 L319.88,122.52 L320.69,122.52 L320.69,122.90 L321.50,122.90 L321.50,123.12 L322.30,123.12 L322.30,123.33 L323.11,123.33 L323.11,123.55 L323.91,123.55 L323.91,123.76 L324.72,123.76 L324.72,123.97 L325.52,123.97 L325.52,124.18 L326.32,124.18 L326.32,124.40 L327.13,124.40 L327.13,124.61 L327.94,124.61 L327.94,124.82 L328.74,124.82 L328.74,125.04 L329.55,125.04 L329.55,125.25 L330.35,125.25 L330.35,125.46 L331.16,125.46 L331.16,125.67 L331.96,125.67 L331.96,125.78 L332.76,125.78 L332.76,125.89 L333.57,125.89 L333.57,126.00 L334.38,126.00 L334.38,126.12 L335.18,126.12 L335.18,126.23 L335.99,126.23 L335.99,126.34 L336.79,126.34 L336.79,126.45 L337.60,126.45 L337.60,126.56 L338.40,126.56 L338.40,126.68 L339.21,126.68 L339.21,126.79 L340.01,126.79 L340.01,126.90 L340.81,126.90 L340.81,127.01 L341.62,127.01 L341.62,127.12 L342.43,127.12 L342.43,127.23 L343.23,127.23 L343.23,127.29 L344.04,127.29 L344.04,127.33 L344.84,127.33 L344.84,127.37 L345.64,127.37 L345.64,127.42 L346.45,127.42 L346.45,127.46 L347.25,127.46 L347.25,127.50 L348.06,127.50 L348.06,127.54 L348.87,127.54 L348.87,127.58 L349.67,127.58 L349.67,127.62 L350.48,127.62 L350.48,127.67 L351.28,127.67 L351.28,127.71 L352.09,127.71 L352.09,127.75 L352.89,127.75 L352.89,127.79 L353.69,127.79 L353.69,127.83 L354.50,127.83 L354.50,127.86 L355.31,127.86 L355.31,127.88 L356.11,127.88 L356.11,127.90 L356.92,127.90 L356.92,127.92 L357.72,127.92 L357.72,127.94 L358.52,127.94 L358.52,127.96 L359.33,127.96 L359.33,127.98 L360.13,127.98 L360.13,128.00 L360.94,128.00 L360.94,128.02 L361.75,128.02 L361.75,128.03 L362.55,128.03 L362.55,128.05 L363.36,128.05 L363.36,128.07 L364.16,128.07 L364.16,128.09 L364.97,128.09 L364.97,128.11 L365.77,128.11 L365.77,128.40 Z" fill="rgba(245,166,0,0.6)" stroke="none"/>
<path d="M274.00,128.40 L274.00,128.40 L275.50,128.40 L275.50,128.40 L276.99,128.40 L276.99,128.40 L278.49,128.40 L278.49,128.40 L279.98,128.40 L279.98,128.40 L281.48,128.40 L281.48,128.40 L282.97,128.40 L282.97,128.40 L284.46,128.40 L284.46,128.40 L285.96,128.40 L285.96,128.40 L287.45,128.40 L287.45,128.40 L288.95,128.40 L288.95,127.91 L290.44,127.91 L290.44,124.71 L291.94,124.71 L291.94,117.56 L293.44,117.56 L293.44,105.60 L294.93,105.60 L294.93,82.61 L296.43,82.61 L296.43,66.20 L297.92,66.20 L297.92,55.74 L299.42,55.74 L299.42,66.83 L300.91,66.83 L300.91,77.76 L302.41,77.76 L302.41,98.39 L303.90,98.39 L303.90,111.31 L305.39,111.31 L305.39,116.26 L306.89,116.26 L306.89,119.32 L308.38,119.32 L308.38,121.79 L309.88,121.79 L309.88,122.65 L311.38,122.65 L311.38,123.52 L312.87,123.52 L312.87,124.34 L314.37,124.34 L314.37,124.78 L315.86,124.78 L315.86,125.21 L317.36,125.21 L317.36,125.64 L318.85,125.64 L318.85,126.08 L320.35,126.08 L320.35,126.51 L321.84,126.51 L321.84,126.95 L323.33,126.95 L323.33,127.13 L324.83,127.13 L324.83,127.25 L326.32,127.25 L326.32,127.36 L327.82,127.36 L327.82,127.48 L329.31,127.48 L329.31,127.60 L330.81,127.60 L330.81,127.72 L332.31,127.72 L332.31,127.74 L333.80,127.74 L333.80,127.76 L335.30,127.76 L335.30,127.78 L336.79,127.78 L336.79,127.80 L338.28,127.80 L338.28,127.81 L339.78,127.81 L339.78,127.83 L341.27,127.83 L341.27,127.85 L342.77,127.85 L342.77,127.87 L344.26,127.87 L344.26,127.89 L345.76,127.89 L345.76,127.91 L347.25,127.91 L347.25,127.93 L348.75,127.93 L348.75,127.95 L350.25,127.95 L350.25,127.97 L351.74,127.97 L351.74,127.99 L353.24,127.99 L353.24,128.01 L354.73,128.01 L354.73,128.03 L356.23,128.03 L356.23,128.05 L357.72,128.05 L357.72,128.07 L359.22,128.07 L359.22,128.09 L360.71,128.09 L360.71,128.11 L362.20,128.11 L362.20,128.13 L363.70,128.13 L363.70,128.15 L365.19,128.15 L366.00,128.40" fill="none" stroke="#000" stroke-width="1.2"/>
<line x1="274.00" y1="131.50" x2="366.00" y2="131.50" stroke="#999" stroke-width="1"/>
<line x1="274.00" y1="131.50" x2="274.00" y2="134.50" stroke="#333" stroke-width="1"/>
<text x="274.00" y="142.32" font-size="7" text-anchor="middle" fill="#000" stroke="#000" stroke-width="0.12">−2</text>
<line x1="297.00" y1="131.50" x2="297.00" y2="134.50" stroke="#333" stroke-width="1"/>
<text x="297.00" y="142.32" font-size="7" text-anchor="middle" fill="#000" stroke="#000" stroke-width="0.12">0</text>
<line x1="320.00" y1="131.50" x2="320.00" y2="134.50" stroke="#333" stroke-width="1"/>
<text x="320.00" y="142.32" font-size="7" text-anchor="middle" fill="#000" stroke="#000" stroke-width="0.12">2</text>
<line x1="343.00" y1="131.50" x2="343.00" y2="134.50" stroke="#333" stroke-width="1"/>
<text x="343.00" y="142.32" font-size="7" text-anchor="middle" fill="#000" stroke="#000" stroke-width="0.12">4</text>
<line x1="366.00" y1="131.50" x2="366.00" y2="134.50" stroke="#333" stroke-width="1"/>
<text x="366.00" y="142.32" font-size="7" text-anchor="middle" fill="#000" stroke="#000" stroke-width="0.12">6</text>
<text x="319.00" y="150.78" font-size="6.6" text-anchor="middle" fill="#000" stroke="#000" stroke-width="0.12">SHAPE reactivity</text>
<text x="305.00" y="65.78" font-size="6.6" text-anchor="start" fill="#000" stroke="#000" stroke-width="0.12">with SAM</text>
<text x="164.00" y="33.90" font-size="7.5" text-anchor="start" fill="#111" font-weight="bold" stroke="#111" stroke-width="0.12">C)</text>
<line x1="159.40" y1="42.00" x2="159.40" y2="131.50" stroke="#333" stroke-width="0.9" stroke-dasharray="1,1.3"/>
<path d="M166.88,254.40 L166.88,253.96 L169.16,253.96 L169.16,253.91 L171.44,253.91 L171.44,253.87 L173.72,253.87 L173.72,253.82 L176.00,253.82 L176.00,253.69 L178.28,253.69 L178.28,253.48 L180.56,253.48 L180.56,253.27 L182.84,253.27 L182.84,250.64 L185.12,250.64 L185.12,226.23 L187.40,226.23 L187.40,173.65 L189.68,173.65 L189.68,233.74 L191.96,233.74 L191.96,242.19 L194.24,242.19 L194.24,247.19 L196.52,247.19 L196.52,249.37 L198.80,249.37 L198.80,249.37 L201.08,249.37 L201.08,251.17 L203.36,251.17 L203.36,251.17 L205.64,251.17 L205.64,251.17 L207.92,251.17 L207.92,252.60 L210.20,252.60 L210.20,252.60 L212.48,252.60 L212.48,252.60 L214.76,252.60 L214.76,252.60 L217.04,252.60 L217.04,253.68 L219.32,253.68 L219.32,253.72 L221.60,253.72 L221.60,253.76 L223.88,253.76 L223.88,253.79 L226.16,253.79 L226.16,253.84 L228.44,253.84 L228.44,253.88 L230.72,253.88 L230.72,253.93 L233.00,253.93 L233.00,253.97 L235.28,253.97 L235.28,254.02 L237.56,254.02 L237.56,254.04 L239.84,254.04 L239.84,254.06 L242.12,254.06 L242.12,254.08 L244.40,254.08 L244.40,254.10 L246.68,254.10 L246.68,254.12 L248.96,254.12 L248.96,254.14 L251.24,254.14 L251.24,254.16 L253.52,254.16 L253.52,254.18 L255.80,254.18 L255.80,254.20 L258.08,254.20 L258.08,254.21 L260.36,254.21 L260.36,254.23 L262.64,254.23 L262.64,254.25 L264.92,254.25 L264.92,254.40 Z" fill="rgba(20,170,175,0.6)" stroke="none"/>
<path d="M166.88,254.40 L166.88,254.02 L169.16,254.02 L169.16,254.02 L171.44,254.02 L171.44,254.02 L173.72,254.02 L173.72,254.02 L176.00,254.02 L176.00,254.02 L178.28,254.02 L178.28,254.02 L180.56,254.02 L180.56,254.02 L182.84,254.02 L182.84,254.02 L185.12,254.02 L185.12,251.11 L187.40,251.11 L187.40,229.99 L189.68,229.99 L189.68,234.68 L191.96,234.68 L191.96,238.81 L194.24,238.81 L194.24,245.95 L196.52,245.95 L196.52,245.95 L198.80,245.95 L198.80,245.95 L201.08,245.95 L201.08,246.42 L203.36,246.42 L203.36,246.42 L205.64,246.42 L205.64,247.36 L207.92,247.36 L207.92,247.36 L210.20,247.36 L210.20,247.36 L212.48,247.36 L212.48,249.71 L214.76,249.71 L214.76,249.71 L217.04,249.71 L217.04,249.71 L219.32,249.71 L219.32,252.05 L221.60,252.05 L221.60,252.05 L223.88,252.05 L223.88,253.47 L226.16,253.47 L226.16,253.51 L228.44,253.51 L228.44,253.54 L230.72,253.54 L230.72,253.57 L233.00,253.57 L233.00,253.61 L235.28,253.61 L235.28,253.64 L237.56,253.64 L237.56,253.72 L239.84,253.72 L239.84,253.80 L242.12,253.80 L242.12,253.89 L244.40,253.89 L244.40,253.94 L246.68,253.94 L246.68,253.95 L248.96,253.95 L248.96,253.96 L251.24,253.96 L251.24,253.97 L253.52,253.97 L253.52,253.98 L255.80,253.98 L255.80,253.99 L258.08,253.99 L258.08,254.00 L260.36,254.00 L260.36,254.02 L262.64,254.02 L262.64,254.02 L264.92,254.02 L264.92,254.40 Z" fill="rgba(245,166,0,0.6)" stroke="none"/>
<path d="M168.40,254.40 L168.40,254.40 L170.30,254.40 L170.30,254.40 L172.20,254.40 L172.20,254.40 L174.10,254.40 L174.10,254.40 L176.00,254.40 L176.00,254.40 L177.90,254.40 L177.90,254.40 L179.80,254.40 L179.80,254.40 L181.70,254.40 L181.70,254.40 L183.60,254.40 L183.60,254.40 L185.50,254.40 L185.50,252.99 L187.40,252.99 L187.40,208.39 L189.30,208.39 L189.30,225.57 L191.20,225.57 L191.20,236.18 L193.10,236.18 L193.10,238.44 L195.00,238.44 L195.00,244.16 L196.90,244.16 L196.90,244.16 L198.80,244.16 L198.80,245.95 L200.70,245.95 L200.70,245.95 L202.60,245.95 L202.60,251.30 L204.50,251.30 L204.50,249.14 L206.40,249.14 L206.40,249.99 L208.30,249.99 L208.30,249.99 L210.20,249.99 L210.20,249.14 L212.10,249.14 L212.10,251.30 L214.00,251.30 L214.00,249.99 L215.90,249.99 L215.90,249.14 L217.80,249.14 L217.80,251.30 L219.70,251.30 L219.70,252.24 L221.60,252.24 L221.60,252.99 L223.50,252.99 L223.50,253.65 L225.40,253.65 L225.40,253.94 L227.30,253.94 L227.30,253.95 L229.20,253.95 L229.20,253.96 L231.10,253.96 L231.10,253.97 L233.00,253.97 L233.00,253.98 L234.90,253.98 L234.90,254.00 L236.80,254.00 L236.80,254.01 L238.70,254.01 L238.70,254.02 L240.60,254.02 L240.60,253.99 L242.50,253.99 L242.50,253.93 L244.40,253.93 L244.40,253.87 L246.30,253.87 L246.30,253.98 L248.20,253.98 L248.20,254.12 L250.10,254.12 L250.10,254.12 L252.00,254.12 L252.00,254.12 L253.90,254.12 L253.90,254.12 L255.80,254.12 L255.80,254.12 L257.70,254.12 L257.70,254.12 L259.60,254.12 L259.60,254.12 L261.50,254.12 L261.50,254.12 L263.40,254.12 L263.40,254.40" fill="none" stroke="#000" stroke-width="1.1"/>
<line x1="187.40" y1="255.50" x2="263.40" y2="255.50" stroke="#999" stroke-width="1"/>
<line x1="187.40" y1="255.50" x2="187.40" y2="258.50" stroke="#333" stroke-width="1"/>
<text x="187.40" y="265.12" font-size="7" text-anchor="middle" fill="#000" stroke="#000" stroke-width="0.12">0</text>
<line x1="225.40" y1="255.50" x2="225.40" y2="258.50" stroke="#333" stroke-width="1"/>
<text x="225.40" y="265.12" font-size="7" text-anchor="middle" fill="#000" stroke="#000" stroke-width="0.12">1</text>
<line x1="263.40" y1="255.50" x2="263.40" y2="258.50" stroke="#333" stroke-width="1"/>
<text x="263.40" y="265.12" font-size="7" text-anchor="middle" fill="#000" stroke="#000" stroke-width="0.12">2</text>
<text x="215.90" y="274.18" font-size="6.6" text-anchor="middle" fill="#000" stroke="#000" stroke-width="0.12">DMS reactivity</text>
<text x="195.00" y="197.88" font-size="6.6" text-anchor="start" fill="#000" stroke="#000" stroke-width="0.12">no SAM</text>
<path d="M270.08,254.40 L270.08,253.96 L272.36,253.96 L272.36,253.91 L274.64,253.91 L274.64,253.87 L276.92,253.87 L276.92,253.82 L279.20,253.82 L279.20,253.69 L281.48,253.69 L281.48,253.48 L283.76,253.48 L283.76,253.27 L286.04,253.27 L286.04,250.64 L288.32,250.64 L288.32,226.23 L290.60,226.23 L290.60,173.65 L292.88,173.65 L292.88,233.74 L295.16,233.74 L295.16,242.19 L297.44,242.19 L297.44,247.19 L299.72,247.19 L299.72,249.37 L302.00,249.37 L302.00,249.37 L304.28,249.37 L304.28,251.17 L306.56,251.17 L306.56,251.17 L308.84,251.17 L308.84,251.17 L311.12,251.17 L311.12,252.60 L313.40,252.60 L313.40,252.60 L315.68,252.60 L315.68,252.60 L317.96,252.60 L317.96,252.60 L320.24,252.60 L320.24,253.68 L322.52,253.68 L322.52,253.72 L324.80,253.72 L324.80,253.76 L327.08,253.76 L327.08,253.79 L329.36,253.79 L329.36,253.84 L331.64,253.84 L331.64,253.88 L333.92,253.88 L333.92,253.93 L336.20,253.93 L336.20,253.97 L338.48,253.97 L338.48,254.02 L340.76,254.02 L340.76,254.04 L343.04,254.04 L343.04,254.06 L345.32,254.06 L345.32,254.08 L347.60,254.08 L347.60,254.10 L349.88,254.10 L349.88,254.12 L352.16,254.12 L352.16,254.14 L354.44,254.14 L354.44,254.16 L356.72,254.16 L356.72,254.18 L359.00,254.18 L359.00,254.20 L361.28,254.20 L361.28,254.21 L363.56,254.21 L363.56,254.23 L365.84,254.23 L365.84,254.25 L368.12,254.25 L368.12,254.40 Z" fill="rgba(20,170,175,0.6)" stroke="none"/>
<path d="M270.08,254.40 L270.08,254.02 L272.36,254.02 L272.36,254.02 L274.64,254.02 L274.64,254.02 L276.92,254.02 L276.92,254.02 L279.20,254.02 L279.20,254.02 L281.48,254.02 L281.48,254.02 L283.76,254.02 L283.76,254.02 L286.04,254.02 L286.04,254.02 L288.32,254.02 L288.32,251.11 L290.60,251.11 L290.60,229.99 L292.88,229.99 L292.88,234.68 L295.16,234.68 L295.16,238.81 L297.44,238.81 L297.44,245.95 L299.72,245.95 L299.72,245.95 L302.00,245.95 L302.00,245.95 L304.28,245.95 L304.28,246.42 L306.56,246.42 L306.56,246.42 L308.84,246.42 L308.84,247.36 L311.12,247.36 L311.12,247.36 L313.40,247.36 L313.40,247.36 L315.68,247.36 L315.68,249.71 L317.96,249.71 L317.96,249.71 L320.24,249.71 L320.24,249.71 L322.52,249.71 L322.52,252.05 L324.80,252.05 L324.80,252.05 L327.08,252.05 L327.08,253.47 L329.36,253.47 L329.36,253.51 L331.64,253.51 L331.64,253.54 L333.92,253.54 L333.92,253.57 L336.20,253.57 L336.20,253.61 L338.48,253.61 L338.48,253.64 L340.76,253.64 L340.76,253.72 L343.04,253.72 L343.04,253.80 L345.32,253.80 L345.32,253.89 L347.60,253.89 L347.60,253.94 L349.88,253.94 L349.88,253.95 L352.16,253.95 L352.16,253.96 L354.44,253.96 L354.44,253.97 L356.72,253.97 L356.72,253.98 L359.00,253.98 L359.00,253.99 L361.28,253.99 L361.28,254.00 L363.56,254.00 L363.56,254.02 L365.84,254.02 L365.84,254.02 L368.12,254.02 L368.12,254.40 Z" fill="rgba(245,166,0,0.6)" stroke="none"/>
<path d="M271.60,254.40 L271.60,254.40 L273.50,254.40 L273.50,254.40 L275.40,254.40 L275.40,254.40 L277.30,254.40 L277.30,254.40 L279.20,254.40 L279.20,254.40 L281.10,254.40 L281.10,254.40 L283.00,254.40 L283.00,254.40 L284.90,254.40 L284.90,254.40 L286.80,254.40 L286.80,253.46 L288.70,253.46 L288.70,238.44 L290.60,238.44 L290.60,181.16 L292.50,181.16 L292.50,225.29 L294.40,225.29 L294.40,240.97 L296.30,240.97 L296.30,245.29 L298.20,245.29 L298.20,246.89 L300.10,246.89 L300.10,248.30 L302.00,248.30 L302.00,249.14 L303.90,249.14 L303.90,250.64 L305.80,250.64 L305.80,252.24 L307.70,252.24 L307.70,250.83 L309.60,250.83 L309.60,251.68 L311.50,251.68 L311.50,252.05 L313.40,252.05 L313.40,252.62 L315.30,252.62 L315.30,252.62 L317.20,252.62 L317.20,252.62 L319.10,252.62 L319.10,253.27 L321.00,253.27 L321.00,253.93 L322.90,253.93 L322.90,253.93 L324.80,253.93 L324.80,253.93 L326.70,253.93 L326.70,252.24 L328.60,252.24 L328.60,253.93 L330.50,253.93 L330.50,254.03 L332.40,254.03 L332.40,254.05 L334.30,254.05 L334.30,254.07 L336.20,254.07 L336.20,254.09 L338.10,254.09 L338.10,254.11 L340.00,254.11 L340.00,254.12 L341.90,254.12 L341.90,254.13 L343.80,254.13 L343.80,254.14 L345.70,254.14 L345.70,254.14 L347.60,254.14 L347.60,254.15 L349.50,254.15 L349.50,254.16 L351.40,254.16 L351.40,254.16 L353.30,254.16 L353.30,254.17 L355.20,254.17 L355.20,254.18 L357.10,254.18 L357.10,254.18 L359.00,254.18 L359.00,254.19 L360.90,254.19 L360.90,254.20 L362.80,254.20 L362.80,254.20 L364.70,254.20 L364.70,254.21 L366.60,254.21 L366.60,254.40" fill="none" stroke="#000" stroke-width="1.1"/>
<line x1="290.60" y1="255.50" x2="366.60" y2="255.50" stroke="#999" stroke-width="1"/>
<line x1="290.60" y1="255.50" x2="290.60" y2="258.50" stroke="#333" stroke-width="1"/>
<text x="290.60" y="265.12" font-size="7" text-anchor="middle" fill="#000" stroke="#000" stroke-width="0.12">0</text>
<line x1="328.60" y1="255.50" x2="328.60" y2="258.50" stroke="#333" stroke-width="1"/>
<text x="328.60" y="265.12" font-size="7" text-anchor="middle" fill="#000" stroke="#000" stroke-width="0.12">1</text>
<line x1="366.60" y1="255.50" x2="366.60" y2="258.50" stroke="#333" stroke-width="1"/>
<text x="366.60" y="265.12" font-size="7" text-anchor="middle" fill="#000" stroke="#000" stroke-width="0.12">2</text>
<text x="319.10" y="274.18" font-size="6.6" text-anchor="middle" fill="#000" stroke="#000" stroke-width="0.12">DMS reactivity</text>
<text x="304.70" y="197.88" font-size="6.6" text-anchor="start" fill="#000" stroke="#000" stroke-width="0.12">with SAM</text>
<text x="164.00" y="162.30" font-size="7.5" text-anchor="start" fill="#111" font-weight="bold" stroke="#111" stroke-width="0.12">D)</text>
<line x1="159.40" y1="168.00" x2="159.40" y2="257.00" stroke="#333" stroke-width="0.9" stroke-dasharray="1,1.3"/>
<line x1="333.20" y1="234.30" x2="336.80" y2="234.30" stroke="#000" stroke-width="0.9"/>
<text x="339.60" y="236.42" font-size="5.9" text-anchor="start" fill="#000" stroke="#000" stroke-width="0.12">pseudoknot</text>
<path d="M203.6,98.8 Q240,61 290.5,65.4" fill="none" stroke="#a8306f" stroke-width="1.1"/>
<polygon points="291.30,65.47 287.53,66.60 287.79,63.71" fill="#a8306f"/>
<path d="M199.1,238.3 Q231,190.5 283.5,192.1" fill="none" stroke="#a8306f" stroke-width="1.1"/>
<polygon points="284.30,192.12 280.61,193.47 280.69,190.56" fill="#a8306f"/>
<polygon points="236.20,90.40 242.40,79.45 254.80,79.45 261.00,90.40 254.80,101.35 242.40,101.35" fill="#a64ca4"/>
<text x="248.60" y="92.70" font-size="6.4" text-anchor="middle" fill="#fff" font-weight="bold" stroke="#fff" stroke-width="0.12">SAM</text>
<polygon points="236.30,217.90 242.50,206.95 254.90,206.95 261.10,217.90 254.90,228.85 242.50,228.85" fill="#a64ca4"/>
<text x="248.70" y="220.20" font-size="6.4" text-anchor="middle" fill="#fff" font-weight="bold" stroke="#fff" stroke-width="0.12">SAM</text>
<circle cx="110.00" cy="323.00" r="3.5" fill="none" stroke="#007d00" stroke-width="1.1"/>
<circle cx="73.00" cy="361.00" r="3.5" fill="none" stroke="#007d00" stroke-width="1.1"/>
<circle cx="80.00" cy="362.00" r="3.5" fill="none" stroke="#007d00" stroke-width="1.1"/>
<circle cx="93.00" cy="359.00" r="3.5" fill="none" stroke="#007d00" stroke-width="1.1"/>
<circle cx="100.00" cy="370.00" r="3.5" fill="none" stroke="#007d00" stroke-width="1.1"/>
<circle cx="129.00" cy="381.00" r="3.5" fill="none" stroke="#007d00" stroke-width="1.1"/>
<circle cx="113.00" cy="371.00" r="3.5" fill="none" stroke="#007d00" stroke-width="1.1"/>
<circle cx="90.00" cy="343.00" r="3.5" fill="none" stroke="#007d00" stroke-width="1.1"/>
<circle cx="134.00" cy="353.00" r="3.5" fill="none" stroke="#007d00" stroke-width="1.1"/>
<circle cx="186.00" cy="321.00" r="3.5" fill="none" stroke="#007d00" stroke-width="1.1"/>
<circle cx="183.80" cy="327.50" r="3.5" fill="none" stroke="#007d00" stroke-width="1.1"/>
<circle cx="188.00" cy="328.60" r="3.5" fill="none" stroke="#007d00" stroke-width="1.1"/>
<circle cx="194.50" cy="338.20" r="3.5" fill="none" stroke="#007d00" stroke-width="1.1"/>
<circle cx="196.60" cy="343.50" r="3.5" fill="none" stroke="#007d00" stroke-width="1.1"/>
<circle cx="177.40" cy="344.60" r="3.5" fill="none" stroke="#007d00" stroke-width="1.1"/>
<circle cx="177.40" cy="351.60" r="3.5" fill="none" stroke="#007d00" stroke-width="1.1"/>
<circle cx="186.00" cy="342.40" r="3.5" fill="none" stroke="#007d00" stroke-width="1.1"/>
<circle cx="188.50" cy="350.00" r="3.5" fill="none" stroke="#007d00" stroke-width="1.1"/>
<circle cx="183.80" cy="338.20" r="3.5" fill="none" stroke="#007d00" stroke-width="1.1"/>
<circle cx="129.00" cy="382.00" r="3.5" fill="none" stroke="#007d00" stroke-width="1.1"/>
<circle cx="96.00" cy="327.00" r="3.5" fill="none" stroke="#007d00" stroke-width="1.1"/>
<circle cx="105.00" cy="330.00" r="3.5" fill="none" stroke="#007d00" stroke-width="1.1"/>
<circle cx="125.00" cy="338.00" r="3.5" fill="none" stroke="#007d00" stroke-width="1.1"/>
<circle cx="116.00" cy="345.00" r="3.5" fill="none" stroke="#007d00" stroke-width="1.1"/>
<circle cx="146.00" cy="350.00" r="3.5" fill="none" stroke="#007d00" stroke-width="1.1"/>
<circle cx="120.00" cy="356.00" r="3.5" fill="none" stroke="#007d00" stroke-width="1.1"/>
<circle cx="126.00" cy="364.00" r="3.5" fill="none" stroke="#007d00" stroke-width="1.1"/>
<circle cx="106.00" cy="362.00" r="3.5" fill="none" stroke="#007d00" stroke-width="1.1"/>
<circle cx="109.21" cy="328.13" r="4.1" fill="#007d00" stroke="none" stroke-width="1.0"/>
<circle cx="115.74" cy="328.38" r="4.1" fill="#007d00" stroke="none" stroke-width="1.0"/>
<circle cx="118.63" cy="329.01" r="4.1" fill="#007d00" stroke="none" stroke-width="1.0"/>
<circle cx="124.44" cy="329.49" r="4.1" fill="#007d00" stroke="none" stroke-width="1.0"/>
<circle cx="131.92" cy="327.93" r="4.1" fill="#007d00" stroke="none" stroke-width="1.0"/>
<circle cx="135.96" cy="328.40" r="4.1" fill="#007d00" stroke="none" stroke-width="1.0"/>
<circle cx="143.75" cy="328.72" r="4.1" fill="#007d00" stroke="none" stroke-width="1.0"/>
<circle cx="148.55" cy="328.77" r="4.1" fill="#007d00" stroke="none" stroke-width="1.0"/>
<circle cx="155.24" cy="326.59" r="4.1" fill="#007d00" stroke="none" stroke-width="1.0"/>
<circle cx="162.42" cy="328.66" r="4.1" fill="#007d00" stroke="none" stroke-width="1.0"/>
<circle cx="169.84" cy="329.26" r="4.1" fill="#007d00" stroke="none" stroke-width="1.0"/>
<circle cx="100.90" cy="332.83" r="4.1" fill="#007d00" stroke="none" stroke-width="1.0"/>
<circle cx="107.98" cy="331.79" r="4.1" fill="#007d00" stroke="none" stroke-width="1.0"/>
<circle cx="110.83" cy="334.40" r="4.1" fill="#007d00" stroke="none" stroke-width="1.0"/>
<circle cx="117.65" cy="332.40" r="4.1" fill="#007d00" stroke="none" stroke-width="1.0"/>
<circle cx="122.69" cy="332.55" r="4.1" fill="#007d00" stroke="none" stroke-width="1.0"/>
<circle cx="129.25" cy="334.21" r="4.1" fill="#007d00" stroke="none" stroke-width="1.0"/>
<circle cx="136.49" cy="334.07" r="4.1" fill="#007d00" stroke="none" stroke-width="1.0"/>
<circle cx="142.70" cy="331.99" r="4.1" fill="#007d00" stroke="none" stroke-width="1.0"/>
<circle cx="150.23" cy="334.21" r="4.1" fill="#007d00" stroke="none" stroke-width="1.0"/>
<circle cx="155.40" cy="332.13" r="4.1" fill="#007d00" stroke="none" stroke-width="1.0"/>
<circle cx="161.56" cy="332.35" r="4.1" fill="#007d00" stroke="none" stroke-width="1.0"/>
<circle cx="167.06" cy="334.47" r="4.1" fill="#007d00" stroke="none" stroke-width="1.0"/>
<circle cx="104.90" cy="337.73" r="4.1" fill="#007d00" stroke="none" stroke-width="1.0"/>
<circle cx="108.26" cy="338.81" r="4.1" fill="#007d00" stroke="none" stroke-width="1.0"/>
<circle cx="114.19" cy="338.34" r="4.1" fill="#007d00" stroke="none" stroke-width="1.0"/>
<circle cx="120.83" cy="337.49" r="4.1" fill="#007d00" stroke="none" stroke-width="1.0"/>
<circle cx="128.32" cy="338.02" r="4.1" fill="#007d00" stroke="none" stroke-width="1.0"/>
<circle cx="133.30" cy="336.73" r="4.1" fill="#007d00" stroke="none" stroke-width="1.0"/>
<circle cx="138.46" cy="337.09" r="4.1" fill="#007d00" stroke="none" stroke-width="1.0"/>
<circle cx="145.72" cy="336.97" r="4.1" fill="#007d00" stroke="none" stroke-width="1.0"/>
<circle cx="151.10" cy="337.44" r="4.1" fill="#007d00" stroke="none" stroke-width="1.0"/>
<circle cx="158.08" cy="337.63" r="4.1" fill="#007d00" stroke="none" stroke-width="1.0"/>
<circle cx="162.60" cy="338.43" r="4.1" fill="#007d00" stroke="none" stroke-width="1.0"/>
<circle cx="168.71" cy="338.36" r="4.1" fill="#007d00" stroke="none" stroke-width="1.0"/>
<circle cx="110.02" cy="342.79" r="4.1" fill="#007d00" stroke="none" stroke-width="1.0"/>
<circle cx="115.51" cy="342.40" r="4.1" fill="#007d00" stroke="none" stroke-width="1.0"/>
<circle cx="123.31" cy="343.15" r="4.1" fill="#007d00" stroke="none" stroke-width="1.0"/>
<circle cx="127.52" cy="343.24" r="4.1" fill="#007d00" stroke="none" stroke-width="1.0"/>
<circle cx="132.67" cy="343.40" r="4.1" fill="#007d00" stroke="none" stroke-width="1.0"/>
<circle cx="137.36" cy="342.90" r="4.1" fill="#007d00" stroke="none" stroke-width="1.0"/>
<circle cx="142.73" cy="343.62" r="4.1" fill="#007d00" stroke="none" stroke-width="1.0"/>
<circle cx="148.08" cy="341.68" r="4.1" fill="#007d00" stroke="none" stroke-width="1.0"/>
<circle cx="157.10" cy="342.25" r="4.1" fill="#007d00" stroke="none" stroke-width="1.0"/>
<circle cx="161.63" cy="342.46" r="4.1" fill="#007d00" stroke="none" stroke-width="1.0"/>
<circle cx="166.20" cy="342.61" r="4.1" fill="#007d00" stroke="none" stroke-width="1.0"/>
<circle cx="123.40" cy="347.63" r="4.1" fill="#007d00" stroke="none" stroke-width="1.0"/>
<circle cx="129.01" cy="348.21" r="4.1" fill="#007d00" stroke="none" stroke-width="1.0"/>
<circle cx="136.20" cy="347.17" r="4.1" fill="#007d00" stroke="none" stroke-width="1.0"/>
<circle cx="142.49" cy="347.06" r="4.1" fill="#007d00" stroke="none" stroke-width="1.0"/>
<circle cx="149.46" cy="346.81" r="4.1" fill="#007d00" stroke="none" stroke-width="1.0"/>
<circle cx="153.67" cy="349.00" r="4.1" fill="#007d00" stroke="none" stroke-width="1.0"/>
<circle cx="160.83" cy="347.01" r="4.1" fill="#007d00" stroke="none" stroke-width="1.0"/>
<circle cx="165.56" cy="349.15" r="4.1" fill="#007d00" stroke="none" stroke-width="1.0"/>
<circle cx="129.18" cy="351.86" r="4.1" fill="#007d00" stroke="none" stroke-width="1.0"/>
<circle cx="134.90" cy="353.92" r="4.1" fill="#007d00" stroke="none" stroke-width="1.0"/>
<circle cx="141.47" cy="352.34" r="4.1" fill="#007d00" stroke="none" stroke-width="1.0"/>
<circle cx="149.36" cy="353.92" r="4.1" fill="#007d00" stroke="none" stroke-width="1.0"/>
<circle cx="153.19" cy="352.38" r="4.1" fill="#007d00" stroke="none" stroke-width="1.0"/>
<circle cx="160.10" cy="352.54" r="4.1" fill="#007d00" stroke="none" stroke-width="1.0"/>
<circle cx="166.09" cy="352.73" r="4.1" fill="#007d00" stroke="none" stroke-width="1.0"/>
<circle cx="132.97" cy="355.51" r="4.1" fill="#007d00" stroke="none" stroke-width="1.0"/>
<circle cx="142.00" cy="358.46" r="4.1" fill="#007d00" stroke="none" stroke-width="1.0"/>
<circle cx="147.79" cy="358.28" r="4.1" fill="#007d00" stroke="none" stroke-width="1.0"/>
<circle cx="152.24" cy="358.01" r="4.1" fill="#007d00" stroke="none" stroke-width="1.0"/>
<circle cx="157.71" cy="356.37" r="4.1" fill="#007d00" stroke="none" stroke-width="1.0"/>
<circle cx="137.18" cy="358.70" r="4.1" fill="#007d00" stroke="none" stroke-width="1.0"/>
<circle cx="143.33" cy="360.93" r="4.1" fill="#007d00" stroke="none" stroke-width="1.0"/>
<circle cx="149.80" cy="360.58" r="4.1" fill="#007d00" stroke="none" stroke-width="1.0"/>
<circle cx="156.58" cy="361.20" r="4.1" fill="#007d00" stroke="none" stroke-width="1.0"/>
<circle cx="81.00" cy="328.00" r="4.1" fill="#007d00" stroke="none" stroke-width="1.0"/>
<circle cx="87.00" cy="331.00" r="4.1" fill="#007d00" stroke="none" stroke-width="1.0"/>
<circle cx="77.00" cy="336.00" r="4.1" fill="#007d00" stroke="none" stroke-width="1.0"/>
<circle cx="155.00" cy="319.00" r="4.1" fill="#007d00" stroke="none" stroke-width="1.0"/>
<circle cx="170.00" cy="327.00" r="4.1" fill="#007d00" stroke="none" stroke-width="1.0"/>
<circle cx="168.00" cy="335.00" r="4.1" fill="#007d00" stroke="none" stroke-width="1.0"/>
<circle cx="170.00" cy="349.00" r="4.1" fill="#007d00" stroke="none" stroke-width="1.0"/>
<circle cx="142.00" cy="359.00" r="4.1" fill="#007d00" stroke="none" stroke-width="1.0"/>
<circle cx="158.00" cy="363.60" r="4.1" fill="#007d00" stroke="none" stroke-width="1.0"/>
<circle cx="165.00" cy="367.00" r="4.1" fill="#007d00" stroke="none" stroke-width="1.0"/>
<circle cx="162.00" cy="375.00" r="4.1" fill="#007d00" stroke="none" stroke-width="1.0"/>
<circle cx="100.00" cy="356.00" r="4.1" fill="#007d00" stroke="none" stroke-width="1.0"/>
<circle cx="99.00" cy="352.00" r="4.1" fill="#007d00" stroke="none" stroke-width="1.0"/>
<circle cx="77.40" cy="403.60" r="3.5" fill="none" stroke="#f00000" stroke-width="1.1"/>
<circle cx="91.60" cy="407.20" r="3.5" fill="none" stroke="#f00000" stroke-width="1.1"/>
<circle cx="117.80" cy="410.60" r="3.5" fill="none" stroke="#f00000" stroke-width="1.1"/>
<circle cx="129.80" cy="404.80" r="3.5" fill="none" stroke="#f00000" stroke-width="1.1"/>
<circle cx="132.00" cy="406.20" r="3.5" fill="none" stroke="#f00000" stroke-width="1.1"/>
<circle cx="140.60" cy="400.20" r="3.5" fill="none" stroke="#f00000" stroke-width="1.1"/>
<circle cx="147.00" cy="410.00" r="3.5" fill="none" stroke="#f00000" stroke-width="1.1"/>
<circle cx="135.40" cy="414.00" r="3.5" fill="none" stroke="#f00000" stroke-width="1.1"/>
<circle cx="136.40" cy="419.40" r="3.5" fill="none" stroke="#f00000" stroke-width="1.1"/>
<circle cx="129.60" cy="422.20" r="3.5" fill="none" stroke="#f00000" stroke-width="1.1"/>
<circle cx="150.20" cy="418.40" r="3.5" fill="none" stroke="#f00000" stroke-width="1.1"/>
<circle cx="141.20" cy="441.80" r="3.5" fill="none" stroke="#f00000" stroke-width="1.1"/>
<circle cx="171.60" cy="422.80" r="3.5" fill="none" stroke="#f00000" stroke-width="1.1"/>
<circle cx="185.00" cy="393.60" r="3.5" fill="none" stroke="#f00000" stroke-width="1.1"/>
<circle cx="66.40" cy="335.00" r="3.5" fill="none" stroke="#0000f5" stroke-width="1.1"/>
<circle cx="93.60" cy="318.00" r="3.5" fill="none" stroke="#0000f5" stroke-width="1.1"/>
<circle cx="100.60" cy="314.40" r="3.5" fill="none" stroke="#0000f5" stroke-width="1.1"/>
<circle cx="103.60" cy="317.00" r="3.5" fill="none" stroke="#0000f5" stroke-width="1.1"/>
<circle cx="105.60" cy="321.60" r="3.5" fill="none" stroke="#0000f5" stroke-width="1.1"/>
<circle cx="122.00" cy="313.60" r="3.5" fill="none" stroke="#0000f5" stroke-width="1.1"/>
<circle cx="119.00" cy="320.60" r="3.5" fill="none" stroke="#0000f5" stroke-width="1.1"/>
<circle cx="138.00" cy="320.00" r="3.5" fill="none" stroke="#0000f5" stroke-width="1.1"/>
<circle cx="139.00" cy="325.00" r="3.5" fill="none" stroke="#0000f5" stroke-width="1.1"/>
<circle cx="120.00" cy="329.60" r="3.5" fill="none" stroke="#0000f5" stroke-width="1.1"/>
<circle cx="144.00" cy="332.00" r="3.5" fill="none" stroke="#0000f5" stroke-width="1.1"/>
<circle cx="140.00" cy="337.00" r="3.5" fill="none" stroke="#0000f5" stroke-width="1.1"/>
<circle cx="87.00" cy="341.00" r="3.5" fill="none" stroke="#0000f5" stroke-width="1.1"/>
<circle cx="80.00" cy="342.00" r="3.5" fill="none" stroke="#0000f5" stroke-width="1.1"/>
<circle cx="82.00" cy="347.00" r="3.5" fill="none" stroke="#0000f5" stroke-width="1.1"/>
<circle cx="85.00" cy="353.00" r="3.5" fill="none" stroke="#0000f5" stroke-width="1.1"/>
<circle cx="98.00" cy="347.00" r="3.5" fill="none" stroke="#0000f5" stroke-width="1.1"/>
<circle cx="99.00" cy="351.00" r="3.5" fill="none" stroke="#0000f5" stroke-width="1.1"/>
<circle cx="108.00" cy="346.00" r="3.5" fill="none" stroke="#0000f5" stroke-width="1.1"/>
<circle cx="109.00" cy="354.00" r="3.5" fill="none" stroke="#0000f5" stroke-width="1.1"/>
<circle cx="111.00" cy="358.00" r="3.5" fill="none" stroke="#0000f5" stroke-width="1.1"/>
<circle cx="118.00" cy="360.00" r="3.5" fill="none" stroke="#0000f5" stroke-width="1.1"/>
<circle cx="121.00" cy="355.00" r="3.5" fill="none" stroke="#0000f5" stroke-width="1.1"/>
<circle cx="124.00" cy="354.00" r="3.5" fill="none" stroke="#0000f5" stroke-width="1.1"/>
<circle cx="126.00" cy="349.00" r="3.5" fill="none" stroke="#0000f5" stroke-width="1.1"/>
<circle cx="116.00" cy="366.00" r="3.5" fill="none" stroke="#0000f5" stroke-width="1.1"/>
<circle cx="109.00" cy="371.00" r="3.5" fill="none" stroke="#0000f5" stroke-width="1.1"/>
<circle cx="65.00" cy="363.60" r="3.5" fill="none" stroke="#0000f5" stroke-width="1.1"/>
<circle cx="85.60" cy="365.00" r="3.5" fill="none" stroke="#0000f5" stroke-width="1.1"/>
<circle cx="132.00" cy="368.00" r="3.5" fill="none" stroke="#0000f5" stroke-width="1.1"/>
<circle cx="149.00" cy="353.60" r="3.5" fill="none" stroke="#0000f5" stroke-width="1.1"/>
<circle cx="184.00" cy="332.00" r="3.5" fill="none" stroke="#0000f5" stroke-width="1.1"/>
<circle cx="103.00" cy="341.00" r="3.5" fill="none" stroke="#0000f5" stroke-width="1.1"/>
<circle cx="96.00" cy="348.00" r="3.5" fill="none" stroke="#0000f5" stroke-width="1.1"/>
<circle cx="113.00" cy="362.00" r="3.5" fill="none" stroke="#0000f5" stroke-width="1.1"/>
<circle cx="105.00" cy="359.00" r="3.5" fill="none" stroke="#0000f5" stroke-width="1.1"/>
<circle cx="132.30" cy="310.00" r="4.1" fill="#0000f5" stroke="none" stroke-width="1.0"/>
<circle cx="133.30" cy="313.60" r="4.1" fill="#0000f5" stroke="none" stroke-width="1.0"/>
<circle cx="134.60" cy="317.30" r="4.1" fill="#0000f5" stroke="none" stroke-width="1.0"/>
<circle cx="135.20" cy="323.50" r="4.1" fill="#0000f5" stroke="none" stroke-width="1.0"/>
<circle cx="131.50" cy="331.00" r="4.1" fill="#0000f5" stroke="none" stroke-width="1.0"/>
<circle cx="108.00" cy="332.80" r="4.1" fill="#0000f5" stroke="none" stroke-width="1.0"/>
<circle cx="105.00" cy="335.00" r="4.1" fill="#0000f5" stroke="none" stroke-width="1.0"/>
<circle cx="94.00" cy="333.00" r="4.1" fill="#0000f5" stroke="none" stroke-width="1.0"/>
<circle cx="118.50" cy="337.70" r="4.1" fill="#0000f5" stroke="none" stroke-width="1.0"/>
<circle cx="122.00" cy="339.00" r="4.1" fill="#0000f5" stroke="none" stroke-width="1.0"/>
<circle cx="132.70" cy="342.00" r="4.1" fill="#0000f5" stroke="none" stroke-width="1.0"/>
<circle cx="138.30" cy="337.00" r="4.1" fill="#0000f5" stroke="none" stroke-width="1.0"/>
<circle cx="151.90" cy="338.30" r="4.1" fill="#0000f5" stroke="none" stroke-width="1.0"/>
<circle cx="156.80" cy="338.30" r="4.1" fill="#0000f5" stroke="none" stroke-width="1.0"/>
<circle cx="106.00" cy="338.00" r="4.1" fill="#0000f5" stroke="none" stroke-width="1.0"/>
<circle cx="109.00" cy="332.00" r="4.1" fill="#0000f5" stroke="none" stroke-width="1.0"/>
<circle cx="274.00" cy="330.00" r="3.5" fill="none" stroke="#007d00" stroke-width="1.1"/>
<circle cx="291.00" cy="322.00" r="3.5" fill="none" stroke="#007d00" stroke-width="1.1"/>
<circle cx="290.00" cy="332.00" r="3.5" fill="none" stroke="#007d00" stroke-width="1.1"/>
<circle cx="284.00" cy="349.00" r="3.5" fill="none" stroke="#007d00" stroke-width="1.1"/>
<circle cx="289.00" cy="344.00" r="3.5" fill="none" stroke="#007d00" stroke-width="1.1"/>
<circle cx="293.00" cy="339.00" r="3.5" fill="none" stroke="#007d00" stroke-width="1.1"/>
<circle cx="299.00" cy="338.00" r="3.5" fill="none" stroke="#007d00" stroke-width="1.1"/>
<circle cx="301.00" cy="343.00" r="3.5" fill="none" stroke="#007d00" stroke-width="1.1"/>
<circle cx="305.00" cy="345.00" r="3.5" fill="none" stroke="#007d00" stroke-width="1.1"/>
<circle cx="308.00" cy="350.00" r="3.5" fill="none" stroke="#007d00" stroke-width="1.1"/>
<circle cx="307.00" cy="358.00" r="3.5" fill="none" stroke="#007d00" stroke-width="1.1"/>
<circle cx="295.00" cy="364.00" r="3.5" fill="none" stroke="#007d00" stroke-width="1.1"/>
<circle cx="284.00" cy="371.00" r="3.5" fill="none" stroke="#007d00" stroke-width="1.1"/>
<circle cx="284.00" cy="380.00" r="3.5" fill="none" stroke="#007d00" stroke-width="1.1"/>
<circle cx="274.00" cy="370.00" r="3.5" fill="none" stroke="#007d00" stroke-width="1.1"/>
<circle cx="256.00" cy="353.00" r="3.5" fill="none" stroke="#007d00" stroke-width="1.1"/>
<circle cx="241.00" cy="359.00" r="3.5" fill="none" stroke="#007d00" stroke-width="1.1"/>
<circle cx="244.00" cy="362.00" r="3.5" fill="none" stroke="#007d00" stroke-width="1.1"/>
<circle cx="269.00" cy="334.00" r="3.5" fill="none" stroke="#007d00" stroke-width="1.1"/>
<circle cx="314.00" cy="330.00" r="3.5" fill="none" stroke="#007d00" stroke-width="1.1"/>
<circle cx="306.00" cy="352.00" r="3.5" fill="none" stroke="#007d00" stroke-width="1.1"/>
<circle cx="311.00" cy="342.00" r="3.5" fill="none" stroke="#007d00" stroke-width="1.1"/>
<circle cx="298.00" cy="348.00" r="3.5" fill="none" stroke="#007d00" stroke-width="1.1"/>
<circle cx="302.00" cy="356.00" r="3.5" fill="none" stroke="#007d00" stroke-width="1.1"/>
<circle cx="278.00" cy="344.00" r="3.5" fill="none" stroke="#007d00" stroke-width="1.1"/>
<circle cx="262.00" cy="348.00" r="3.5" fill="none" stroke="#007d00" stroke-width="1.1"/>
<circle cx="251.00" cy="351.00" r="3.5" fill="none" stroke="#007d00" stroke-width="1.1"/>
<circle cx="297.00" cy="339.00" r="3.5" fill="none" stroke="#007d00" stroke-width="1.1"/>
<circle cx="303.00" cy="335.00" r="3.5" fill="none" stroke="#007d00" stroke-width="1.1"/>
<circle cx="310.00" cy="347.00" r="3.5" fill="none" stroke="#007d00" stroke-width="1.1"/>
<circle cx="300.00" cy="352.00" r="3.5" fill="none" stroke="#007d00" stroke-width="1.1"/>
<circle cx="296.00" cy="356.00" r="3.5" fill="none" stroke="#007d00" stroke-width="1.1"/>
<circle cx="312.00" cy="338.00" r="3.5" fill="none" stroke="#007d00" stroke-width="1.1"/>
<circle cx="288.00" cy="336.00" r="3.5" fill="none" stroke="#007d00" stroke-width="1.1"/>
<circle cx="292.00" cy="346.00" r="3.5" fill="none" stroke="#007d00" stroke-width="1.1"/>
<circle cx="280.00" cy="340.00" r="3.5" fill="none" stroke="#007d00" stroke-width="1.1"/>
<circle cx="285.00" cy="330.00" r="3.5" fill="none" stroke="#007d00" stroke-width="1.1"/>
<circle cx="324.29" cy="321.58" r="4.1" fill="#007d00" stroke="none" stroke-width="1.0"/>
<circle cx="330.65" cy="321.58" r="4.1" fill="#007d00" stroke="none" stroke-width="1.0"/>
<circle cx="334.30" cy="320.92" r="4.1" fill="#007d00" stroke="none" stroke-width="1.0"/>
<circle cx="319.36" cy="326.96" r="4.1" fill="#007d00" stroke="none" stroke-width="1.0"/>
<circle cx="323.15" cy="325.39" r="4.1" fill="#007d00" stroke="none" stroke-width="1.0"/>
<circle cx="328.49" cy="324.83" r="4.1" fill="#007d00" stroke="none" stroke-width="1.0"/>
<circle cx="332.22" cy="327.00" r="4.1" fill="#007d00" stroke="none" stroke-width="1.0"/>
<circle cx="337.46" cy="326.71" r="4.1" fill="#007d00" stroke="none" stroke-width="1.0"/>
<circle cx="342.84" cy="325.10" r="4.1" fill="#007d00" stroke="none" stroke-width="1.0"/>
<circle cx="347.45" cy="325.30" r="4.1" fill="#007d00" stroke="none" stroke-width="1.0"/>
<circle cx="319.16" cy="331.89" r="4.1" fill="#007d00" stroke="none" stroke-width="1.0"/>
<circle cx="323.69" cy="331.09" r="4.1" fill="#007d00" stroke="none" stroke-width="1.0"/>
<circle cx="327.23" cy="332.06" r="4.1" fill="#007d00" stroke="none" stroke-width="1.0"/>
<circle cx="334.44" cy="331.94" r="4.1" fill="#007d00" stroke="none" stroke-width="1.0"/>
<circle cx="337.58" cy="330.20" r="4.1" fill="#007d00" stroke="none" stroke-width="1.0"/>
<circle cx="341.16" cy="330.52" r="4.1" fill="#007d00" stroke="none" stroke-width="1.0"/>
<circle cx="346.22" cy="331.43" r="4.1" fill="#007d00" stroke="none" stroke-width="1.0"/>
<circle cx="317.54" cy="336.76" r="4.1" fill="#007d00" stroke="none" stroke-width="1.0"/>
<circle cx="322.52" cy="335.95" r="4.1" fill="#007d00" stroke="none" stroke-width="1.0"/>
<circle cx="327.31" cy="337.14" r="4.1" fill="#007d00" stroke="none" stroke-width="1.0"/>
<circle cx="333.02" cy="336.83" r="4.1" fill="#007d00" stroke="none" stroke-width="1.0"/>
<circle cx="337.14" cy="335.68" r="4.1" fill="#007d00" stroke="none" stroke-width="1.0"/>
<circle cx="340.43" cy="334.91" r="4.1" fill="#007d00" stroke="none" stroke-width="1.0"/>
<circle cx="347.06" cy="335.27" r="4.1" fill="#007d00" stroke="none" stroke-width="1.0"/>
<circle cx="352.51" cy="337.06" r="4.1" fill="#007d00" stroke="none" stroke-width="1.0"/>
<circle cx="317.65" cy="341.06" r="4.1" fill="#007d00" stroke="none" stroke-width="1.0"/>
<circle cx="322.61" cy="341.60" r="4.1" fill="#007d00" stroke="none" stroke-width="1.0"/>
<circle cx="330.01" cy="339.89" r="4.1" fill="#007d00" stroke="none" stroke-width="1.0"/>
<circle cx="334.06" cy="340.62" r="4.1" fill="#007d00" stroke="none" stroke-width="1.0"/>
<circle cx="341.26" cy="340.62" r="4.1" fill="#007d00" stroke="none" stroke-width="1.0"/>
<circle cx="346.22" cy="340.55" r="4.1" fill="#007d00" stroke="none" stroke-width="1.0"/>
<circle cx="349.97" cy="339.99" r="4.1" fill="#007d00" stroke="none" stroke-width="1.0"/>
<circle cx="318.45" cy="347.19" r="4.1" fill="#007d00" stroke="none" stroke-width="1.0"/>
<circle cx="321.24" cy="347.17" r="4.1" fill="#007d00" stroke="none" stroke-width="1.0"/>
<circle cx="327.16" cy="345.37" r="4.1" fill="#007d00" stroke="none" stroke-width="1.0"/>
<circle cx="333.36" cy="345.89" r="4.1" fill="#007d00" stroke="none" stroke-width="1.0"/>
<circle cx="336.36" cy="347.00" r="4.1" fill="#007d00" stroke="none" stroke-width="1.0"/>
<circle cx="341.47" cy="346.81" r="4.1" fill="#007d00" stroke="none" stroke-width="1.0"/>
<circle cx="346.30" cy="347.08" r="4.1" fill="#007d00" stroke="none" stroke-width="1.0"/>
<circle cx="318.69" cy="350.06" r="4.1" fill="#007d00" stroke="none" stroke-width="1.0"/>
<circle cx="322.03" cy="351.83" r="4.1" fill="#007d00" stroke="none" stroke-width="1.0"/>
<circle cx="327.35" cy="352.20" r="4.1" fill="#007d00" stroke="none" stroke-width="1.0"/>
<circle cx="334.31" cy="350.89" r="4.1" fill="#007d00" stroke="none" stroke-width="1.0"/>
<circle cx="338.69" cy="350.95" r="4.1" fill="#007d00" stroke="none" stroke-width="1.0"/>
<circle cx="342.49" cy="350.15" r="4.1" fill="#007d00" stroke="none" stroke-width="1.0"/>
<circle cx="348.65" cy="352.10" r="4.1" fill="#007d00" stroke="none" stroke-width="1.0"/>
<circle cx="319.00" cy="355.61" r="4.1" fill="#007d00" stroke="none" stroke-width="1.0"/>
<circle cx="322.63" cy="356.68" r="4.1" fill="#007d00" stroke="none" stroke-width="1.0"/>
<circle cx="328.58" cy="356.69" r="4.1" fill="#007d00" stroke="none" stroke-width="1.0"/>
<circle cx="334.93" cy="356.39" r="4.1" fill="#007d00" stroke="none" stroke-width="1.0"/>
<circle cx="339.65" cy="356.49" r="4.1" fill="#007d00" stroke="none" stroke-width="1.0"/>
<circle cx="344.51" cy="356.65" r="4.1" fill="#007d00" stroke="none" stroke-width="1.0"/>
<circle cx="319.51" cy="362.07" r="4.1" fill="#007d00" stroke="none" stroke-width="1.0"/>
<circle cx="325.49" cy="359.83" r="4.1" fill="#007d00" stroke="none" stroke-width="1.0"/>
<circle cx="329.80" cy="361.41" r="4.1" fill="#007d00" stroke="none" stroke-width="1.0"/>
<circle cx="336.08" cy="361.35" r="4.1" fill="#007d00" stroke="none" stroke-width="1.0"/>
<circle cx="340.55" cy="361.35" r="4.1" fill="#007d00" stroke="none" stroke-width="1.0"/>
<circle cx="322.79" cy="364.64" r="4.1" fill="#007d00" stroke="none" stroke-width="1.0"/>
<circle cx="328.57" cy="365.45" r="4.1" fill="#007d00" stroke="none" stroke-width="1.0"/>
<circle cx="334.73" cy="365.04" r="4.1" fill="#007d00" stroke="none" stroke-width="1.0"/>
<circle cx="342.60" cy="319.40" r="4.1" fill="#007d00" stroke="none" stroke-width="1.0"/>
<circle cx="355.00" cy="338.00" r="4.1" fill="#007d00" stroke="none" stroke-width="1.0"/>
<circle cx="347.00" cy="366.60" r="4.1" fill="#007d00" stroke="none" stroke-width="1.0"/>
<circle cx="329.60" cy="375.00" r="4.1" fill="#007d00" stroke="none" stroke-width="1.0"/>
<circle cx="322.00" cy="363.00" r="4.1" fill="#007d00" stroke="none" stroke-width="1.0"/>
<circle cx="329.00" cy="375.00" r="4.1" fill="#007d00" stroke="none" stroke-width="1.0"/>
<circle cx="321.00" cy="370.00" r="4.1" fill="#007d00" stroke="none" stroke-width="1.0"/>
<circle cx="223.00" cy="403.60" r="3.5" fill="none" stroke="#f00000" stroke-width="1.1"/>
<circle cx="230.60" cy="407.00" r="3.5" fill="none" stroke="#f00000" stroke-width="1.1"/>
<circle cx="271.00" cy="400.00" r="3.5" fill="none" stroke="#f00000" stroke-width="1.1"/>
<circle cx="267.60" cy="405.00" r="3.5" fill="none" stroke="#f00000" stroke-width="1.1"/>
<circle cx="269.00" cy="406.00" r="3.5" fill="none" stroke="#f00000" stroke-width="1.1"/>
<circle cx="277.00" cy="406.40" r="3.5" fill="none" stroke="#f00000" stroke-width="1.1"/>
<circle cx="271.60" cy="410.40" r="3.5" fill="none" stroke="#f00000" stroke-width="1.1"/>
<circle cx="281.00" cy="414.00" r="3.5" fill="none" stroke="#f00000" stroke-width="1.1"/>
<circle cx="281.00" cy="418.40" r="3.5" fill="none" stroke="#f00000" stroke-width="1.1"/>
<circle cx="280.00" cy="419.40" r="3.5" fill="none" stroke="#f00000" stroke-width="1.1"/>
<circle cx="273.60" cy="422.00" r="3.5" fill="none" stroke="#f00000" stroke-width="1.1"/>
<circle cx="295.60" cy="422.60" r="3.5" fill="none" stroke="#f00000" stroke-width="1.1"/>
<circle cx="278.00" cy="441.60" r="3.5" fill="none" stroke="#f00000" stroke-width="1.1"/>
<circle cx="320.00" cy="393.60" r="3.5" fill="none" stroke="#f00000" stroke-width="1.1"/>
<circle cx="247.00" cy="317.00" r="3.5" fill="none" stroke="#0000f5" stroke-width="1.1"/>
<circle cx="252.00" cy="317.00" r="3.5" fill="none" stroke="#0000f5" stroke-width="1.1"/>
<circle cx="253.00" cy="320.00" r="3.5" fill="none" stroke="#0000f5" stroke-width="1.1"/>
<circle cx="254.60" cy="322.60" r="3.5" fill="none" stroke="#0000f5" stroke-width="1.1"/>
<circle cx="228.60" cy="335.00" r="3.5" fill="none" stroke="#0000f5" stroke-width="1.1"/>
<circle cx="235.40" cy="347.40" r="3.5" fill="none" stroke="#0000f5" stroke-width="1.1"/>
<circle cx="239.40" cy="365.00" r="3.5" fill="none" stroke="#0000f5" stroke-width="1.1"/>
<circle cx="246.00" cy="354.00" r="3.5" fill="none" stroke="#0000f5" stroke-width="1.1"/>
<circle cx="250.00" cy="343.00" r="3.5" fill="none" stroke="#0000f5" stroke-width="1.1"/>
<circle cx="249.00" cy="347.00" r="3.5" fill="none" stroke="#0000f5" stroke-width="1.1"/>
<circle cx="258.00" cy="339.00" r="3.5" fill="none" stroke="#0000f5" stroke-width="1.1"/>
<circle cx="261.00" cy="339.00" r="3.5" fill="none" stroke="#0000f5" stroke-width="1.1"/>
<circle cx="256.00" cy="357.00" r="3.5" fill="none" stroke="#0000f5" stroke-width="1.1"/>
<circle cx="258.00" cy="361.00" r="3.5" fill="none" stroke="#0000f5" stroke-width="1.1"/>
<circle cx="265.00" cy="345.00" r="3.5" fill="none" stroke="#0000f5" stroke-width="1.1"/>
<circle cx="267.00" cy="343.00" r="3.5" fill="none" stroke="#0000f5" stroke-width="1.1"/>
<circle cx="265.00" cy="354.00" r="3.5" fill="none" stroke="#0000f5" stroke-width="1.1"/>
<circle cx="267.00" cy="356.00" r="3.5" fill="none" stroke="#0000f5" stroke-width="1.1"/>
<circle cx="270.00" cy="331.00" r="3.5" fill="none" stroke="#0000f5" stroke-width="1.1"/>
<circle cx="276.00" cy="351.00" r="3.5" fill="none" stroke="#0000f5" stroke-width="1.1"/>
<circle cx="277.00" cy="364.00" r="3.5" fill="none" stroke="#0000f5" stroke-width="1.1"/>
<circle cx="273.00" cy="367.00" r="3.5" fill="none" stroke="#0000f5" stroke-width="1.1"/>
<circle cx="263.00" cy="371.00" r="3.5" fill="none" stroke="#0000f5" stroke-width="1.1"/>
<circle cx="278.00" cy="339.00" r="3.5" fill="none" stroke="#0000f5" stroke-width="1.1"/>
<circle cx="283.00" cy="334.00" r="3.5" fill="none" stroke="#0000f5" stroke-width="1.1"/>
<circle cx="282.00" cy="338.00" r="3.5" fill="none" stroke="#0000f5" stroke-width="1.1"/>
<circle cx="289.00" cy="314.60" r="3.5" fill="none" stroke="#0000f5" stroke-width="1.1"/>
<circle cx="296.00" cy="311.40" r="3.5" fill="none" stroke="#0000f5" stroke-width="1.1"/>
<circle cx="306.60" cy="313.60" r="3.5" fill="none" stroke="#0000f5" stroke-width="1.1"/>
<circle cx="302.00" cy="320.00" r="3.5" fill="none" stroke="#0000f5" stroke-width="1.1"/>
<circle cx="301.00" cy="324.00" r="3.5" fill="none" stroke="#0000f5" stroke-width="1.1"/>
<circle cx="299.40" cy="330.00" r="3.5" fill="none" stroke="#0000f5" stroke-width="1.1"/>
<circle cx="291.00" cy="354.00" r="3.5" fill="none" stroke="#0000f5" stroke-width="1.1"/>
<circle cx="310.00" cy="333.00" r="3.5" fill="none" stroke="#0000f5" stroke-width="1.1"/>
<circle cx="314.00" cy="336.00" r="3.5" fill="none" stroke="#0000f5" stroke-width="1.1"/>
<circle cx="312.00" cy="355.00" r="3.5" fill="none" stroke="#0000f5" stroke-width="1.1"/>
<circle cx="244.00" cy="349.00" r="3.5" fill="none" stroke="#0000f5" stroke-width="1.1"/>
<circle cx="252.00" cy="345.00" r="3.5" fill="none" stroke="#0000f5" stroke-width="1.1"/>
<circle cx="260.00" cy="352.00" r="3.5" fill="none" stroke="#0000f5" stroke-width="1.1"/>
<circle cx="334.00" cy="310.00" r="4.1" fill="#0000f5" stroke="none" stroke-width="1.0"/>
<circle cx="325.60" cy="315.40" r="4.1" fill="#0000f5" stroke="none" stroke-width="1.0"/>
<circle cx="330.60" cy="323.00" r="4.1" fill="#0000f5" stroke="none" stroke-width="1.0"/>
<circle cx="322.00" cy="336.00" r="4.1" fill="#0000f5" stroke="none" stroke-width="1.0"/>
<circle cx="324.00" cy="342.00" r="4.1" fill="#0000f5" stroke="none" stroke-width="1.0"/>
<circle cx="330.00" cy="333.00" r="4.1" fill="#0000f5" stroke="none" stroke-width="1.0"/>
<circle cx="332.00" cy="339.00" r="4.1" fill="#0000f5" stroke="none" stroke-width="1.0"/>
<circle cx="337.00" cy="332.00" r="4.1" fill="#0000f5" stroke="none" stroke-width="1.0"/>
<circle cx="344.00" cy="332.00" r="4.1" fill="#0000f5" stroke="none" stroke-width="1.0"/>
<circle cx="344.00" cy="338.00" r="4.1" fill="#0000f5" stroke="none" stroke-width="1.0"/>
<circle cx="327.00" cy="337.00" r="4.1" fill="#0000f5" stroke="none" stroke-width="1.0"/>
<circle cx="340.00" cy="335.00" r="4.1" fill="#0000f5" stroke="none" stroke-width="1.0"/>
<line x1="171.40" y1="304.00" x2="171.40" y2="448.00" stroke="#f5a000" stroke-width="1.1" stroke-dasharray="3.3,3.4" stroke-dashoffset="5.3"/>
<line x1="183.40" y1="304.00" x2="183.40" y2="448.00" stroke="#f5a000" stroke-width="1.1" stroke-dasharray="3.3,3.4" stroke-dashoffset="5.3"/>
<line x1="315.00" y1="304.00" x2="315.00" y2="448.00" stroke="#f5a000" stroke-width="1.1" stroke-dasharray="3.3,3.4" stroke-dashoffset="5.3"/>
<line x1="318.60" y1="304.00" x2="318.60" y2="448.00" stroke="#f5a000" stroke-width="1.1" stroke-dasharray="3.3,3.4" stroke-dashoffset="5.3"/>
<rect x="58.5" y="303.5" width="145.0" height="145.0" fill="none" stroke="#444" stroke-width="1"/>
<rect x="216.5" y="303.5" width="145.0" height="145.0" fill="none" stroke="#444" stroke-width="1"/>
<line x1="54.40" y1="314.50" x2="58.50" y2="314.50" stroke="#444" stroke-width="1"/>
<text x="50.60" y="318.60" font-size="10" text-anchor="end" fill="#111">350</text>
<line x1="54.40" y1="345.50" x2="58.50" y2="345.50" stroke="#444" stroke-width="1"/>
<text x="50.60" y="349.60" font-size="10" text-anchor="end" fill="#111">300</text>
<line x1="54.40" y1="376.50" x2="58.50" y2="376.50" stroke="#444" stroke-width="1"/>
<text x="50.60" y="380.60" font-size="10" text-anchor="end" fill="#111">250</text>
<line x1="54.40" y1="407.50" x2="58.50" y2="407.50" stroke="#444" stroke-width="1"/>
<text x="50.60" y="411.60" font-size="10" text-anchor="end" fill="#111">200</text>
<line x1="54.40" y1="438.50" x2="58.50" y2="438.50" stroke="#444" stroke-width="1"/>
<text x="50.60" y="442.60" font-size="10" text-anchor="end" fill="#111">150</text>
<text transform="translate(24.80,376.00) rotate(-90) scale(1.0,1)" y="3.60" font-size="10" text-anchor="middle" fill="#111">RBM score</text>
<line x1="66.50" y1="448.50" x2="66.50" y2="452.50" stroke="#444" stroke-width="1"/>
<text x="66.50" y="464.40" font-size="10" text-anchor="middle" fill="#111">−30</text>
<line x1="102.50" y1="448.50" x2="102.50" y2="452.50" stroke="#444" stroke-width="1"/>
<text x="102.50" y="464.40" font-size="10" text-anchor="middle" fill="#111">−2</text>
<line x1="140.50" y1="448.50" x2="140.50" y2="452.50" stroke="#444" stroke-width="1"/>
<text x="140.50" y="464.40" font-size="10" text-anchor="middle" fill="#111">−1</text>
<line x1="177.50" y1="448.50" x2="177.50" y2="452.50" stroke="#444" stroke-width="1"/>
<text x="177.50" y="464.40" font-size="10" text-anchor="middle" fill="#111">0</text>
<text x="130.90" y="477.17" font-size="10.2" text-anchor="middle" fill="#111">Protect. score(hallmark sites)</text>
<line x1="228.50" y1="448.50" x2="228.50" y2="452.50" stroke="#444" stroke-width="1"/>
<text x="228.60" y="464.40" font-size="10" text-anchor="middle" fill="#111">−75</text>
<line x1="258.50" y1="448.50" x2="258.50" y2="452.50" stroke="#444" stroke-width="1"/>
<text x="255.50" y="464.40" font-size="10" text-anchor="middle" fill="#111">−5</text>
<line x1="287.50" y1="448.50" x2="287.50" y2="452.50" stroke="#444" stroke-width="1"/>
<text x="287.30" y="464.40" font-size="10" text-anchor="middle" fill="#111">−25</text>
<line x1="316.50" y1="448.50" x2="316.50" y2="452.50" stroke="#444" stroke-width="1"/>
<text x="316.40" y="464.40" font-size="10" text-anchor="middle" fill="#111">0</text>
<line x1="346.50" y1="448.50" x2="346.50" y2="452.50" stroke="#444" stroke-width="1"/>
<text x="346.00" y="464.40" font-size="10" text-anchor="middle" fill="#111">25</text>
<text x="289.00" y="477.17" font-size="10.2" text-anchor="middle" fill="#111">Protect. score(hallmark sites)</text>
<text x="130.90" y="297.90" font-size="10" text-anchor="middle" fill="#111" font-weight="bold">no SAM</text>
<text x="289.00" y="297.90" font-size="10" text-anchor="middle" fill="#111" font-weight="bold">with SAM</text>
<text x="27.00" y="297.34" font-size="6.5" text-anchor="start" fill="#111" font-weight="bold" stroke="#111" stroke-width="0.12">E)</text>
<text x="209.00" y="297.34" font-size="6.5" text-anchor="start" fill="#111" font-weight="bold" stroke="#111" stroke-width="0.12">F)</text>
<circle cx="367.60" cy="306.60" r="3.2" fill="none" stroke="#007d00" stroke-width="1.0"/>
<text x="376.90" y="309.54" font-size="7.9" text-anchor="start" fill="#000" stroke="#000" stroke-width="0.12">Nat. (</text>
<path d="M397.51,305.00 L401.31,308.80 M401.31,305.00 L397.51,308.80" stroke="#111" stroke-width="1.3" fill="none"/>
<text x="402.41" y="309.54" font-size="7.9" text-anchor="start" fill="#000" stroke="#000" stroke-width="0.12">)</text>
<circle cx="367.60" cy="320.25" r="3.6" fill="#007d00" stroke="none" stroke-width="1.0"/>
<text x="376.90" y="323.19" font-size="7.9" text-anchor="start" fill="#000" stroke="#000" stroke-width="0.12">Nat. (</text>
<path d="M397.41,321.15 L398.61,322.95 L401.71,318.15" stroke="#111" stroke-width="0.85" fill="none"/>
<text x="402.71" y="323.19" font-size="7.9" text-anchor="start" fill="#000" stroke="#000" stroke-width="0.12">)</text>
<circle cx="367.60" cy="333.90" r="3.2" fill="none" stroke="#f00000" stroke-width="1.0"/>
<text x="376.90" y="336.84" font-size="7.9" text-anchor="start" fill="#000" stroke="#000" stroke-width="0.12">rCM (</text>
<path d="M397.94,332.30 L401.74,336.10 M401.74,332.30 L397.94,336.10" stroke="#111" stroke-width="1.3" fill="none"/>
<text x="402.84" y="336.84" font-size="7.9" text-anchor="start" fill="#000" stroke="#000" stroke-width="0.12">)</text>
<circle cx="367.60" cy="347.55" r="3.6" fill="#f00000" stroke="none" stroke-width="1.0"/>
<text x="376.90" y="350.49" font-size="7.9" text-anchor="start" fill="#000" stroke="#000" stroke-width="0.12">rCM (</text>
<path d="M397.84,348.45 L399.04,350.25 L402.14,345.45" stroke="#111" stroke-width="0.85" fill="none"/>
<text x="403.14" y="350.49" font-size="7.9" text-anchor="start" fill="#000" stroke="#000" stroke-width="0.12">)</text>
<circle cx="367.60" cy="361.20" r="3.2" fill="none" stroke="#0000f5" stroke-width="1.0"/>
<text x="376.90" y="364.14" font-size="7.9" text-anchor="start" fill="#000" stroke="#000" stroke-width="0.12">RBM (</text>
<path d="M400.58,359.60 L404.38,363.40 M404.38,359.60 L400.58,363.40" stroke="#111" stroke-width="1.3" fill="none"/>
<text x="405.48" y="364.14" font-size="7.9" text-anchor="start" fill="#000" stroke="#000" stroke-width="0.12">)</text>
<circle cx="367.60" cy="374.85" r="3.6" fill="#0000f5" stroke="none" stroke-width="1.0"/>
<text x="376.90" y="377.79" font-size="7.9" text-anchor="start" fill="#000" stroke="#000" stroke-width="0.12">RBM (</text>
<path d="M400.48,375.75 L401.68,377.55 L404.78,372.75" stroke="#111" stroke-width="0.85" fill="none"/>
<text x="405.78" y="377.79" font-size="7.9" text-anchor="start" fill="#000" stroke="#000" stroke-width="0.12">)</text>
<path d="M190,424 Q210,414 227,422.6" fill="none" stroke="#a95aa8" stroke-width="1.1"/>
<polygon points="230.5,424.6 225.2,425 227.4,420.3" fill="#a95aa8"/>
<polygon points="199.90,433.90 205.00,424.95 215.20,424.95 220.30,433.90 215.20,442.85 205.00,442.85" fill="#a855a8"/>
<text x="210.10" y="435.63" font-size="4.8" text-anchor="middle" fill="#fff" font-weight="bold" stroke="#fff" stroke-width="0.12">SAM</text>
<text transform="translate(532.40,29.05) scale(0.865,1)" font-size="8.2" text-anchor="start" fill="#111" font-weight="bold" stroke="#111" stroke-width="0.12" text-decoration="underline">Automated analysis</text>
<text transform="translate(430.60,39.45) scale(0.9,1)" font-size="8.2" text-anchor="start" fill="#111" font-weight="bold" stroke="#111" stroke-width="0.12">G)</text>
<text transform="translate(499.40,44.05) scale(0.9,1)" font-size="8.2" text-anchor="start" fill="#111" font-weight="bold" stroke="#111" stroke-width="0.12">Conclusive</text>
<text transform="translate(545.70,44.05) scale(0.9,1)" font-size="8.2" text-anchor="start" fill="#111" font-weight="bold" stroke="#111" stroke-width="0.12">Responsive</text>
<text transform="translate(611.00,44.05) scale(0.9,1)" font-size="8.2" text-anchor="start" fill="#111" font-weight="bold" stroke="#111" stroke-width="0.12">Non-responsive</text>
<rect x="420.40" y="47.90" width="255.20" height="14.20" fill="#ebebeb"/>
<rect x="420.40" y="76.64" width="255.20" height="14.20" fill="#ebebeb"/>
<rect x="420.40" y="105.38" width="255.20" height="14.20" fill="#ebebeb"/>
<rect x="420.40" y="134.12" width="255.20" height="14.20" fill="#ebebeb"/>
<rect x="420.40" y="162.86" width="255.20" height="14.20" fill="#ebebeb"/>
<rect x="420.40" y="191.60" width="255.20" height="14.20" fill="#ebebeb"/>
<text transform="translate(422.00,58.45) scale(0.9,1)" font-size="8.2" text-anchor="start" fill="#1e8a1e" stroke="#1e8a1e" stroke-width="0.12">Natural</text>
<text transform="translate(499.40,58.45) scale(0.9,1)" font-size="8.2" text-anchor="start" fill="#111" stroke="#111" stroke-width="0.12">145 of 201</text>
<text transform="translate(545.70,58.45) scale(0.9,1)" font-size="8.2" text-anchor="start" fill="#111" stroke="#111" stroke-width="0.12">97 (66.9 ± 3.9%)</text>
<text transform="translate(611.00,58.45) scale(0.9,1)" font-size="8.2" text-anchor="start" fill="#111" stroke="#111" stroke-width="0.12">48 (33.1 ± 3.9%)</text>
<text transform="translate(422.00,72.82) scale(0.9,1)" font-size="8.2" text-anchor="start" fill="#1e8a1e" stroke="#1e8a1e" stroke-width="0.12">Nat.(Seed)</text>
<text transform="translate(499.40,72.82) scale(0.9,1)" font-size="8.2" text-anchor="start" fill="#111" stroke="#111" stroke-width="0.12">111 of 151</text>
<text transform="translate(545.70,72.82) scale(0.9,1)" font-size="8.2" text-anchor="start" fill="#111" stroke="#111" stroke-width="0.12">75 (67.6 ± 4.4%)</text>
<text transform="translate(611.00,72.82) scale(0.9,1)" font-size="8.2" text-anchor="start" fill="#111" stroke="#111" stroke-width="0.12">36 (32.4 ± 4.4%)</text>
<text transform="translate(422.00,87.19) scale(0.9,1)" font-size="8.2" text-anchor="start" fill="#1e8a1e" stroke="#1e8a1e" stroke-width="0.12">Nat.(Hits)</text>
<text transform="translate(499.40,87.19) scale(0.9,1)" font-size="8.2" text-anchor="start" fill="#111" stroke="#111" stroke-width="0.12">34 of 50</text>
<text transform="translate(545.70,87.19) scale(0.9,1)" font-size="8.2" text-anchor="start" fill="#111" stroke="#111" stroke-width="0.12">22 (64.7 ± 8.2%)</text>
<text transform="translate(611.00,87.19) scale(0.9,1)" font-size="8.2" text-anchor="start" fill="#111" stroke="#111" stroke-width="0.12">12 (35.3 ± 8.2%)</text>
<text transform="translate(422.00,101.56) scale(0.9,1)" font-size="8.2" text-anchor="start" fill="#1e8a1e" stroke="#1e8a1e" stroke-width="0.12">Nat.(RBMscore&gt;300)</text>
<text transform="translate(499.40,101.56) scale(0.9,1)" font-size="8.2" text-anchor="start" fill="#111" stroke="#111" stroke-width="0.12">96 of 137</text>
<text transform="translate(545.70,101.56) scale(0.9,1)" font-size="8.2" text-anchor="start" fill="#111" stroke="#111" stroke-width="0.12">67 (69.8 ± 4.7%)</text>
<text transform="translate(611.00,101.56) scale(0.9,1)" font-size="8.2" text-anchor="start" fill="#111" stroke="#111" stroke-width="0.12">29 (30.2 ± 4.7%)</text>
<text transform="translate(422.00,115.93) scale(0.9,1)" font-size="8.2" text-anchor="start" fill="#1e8a1e" stroke="#1e8a1e" stroke-width="0.12">Nat.(RBMscore&gt;310)</text>
<text transform="translate(499.40,115.93) scale(0.9,1)" font-size="8.2" text-anchor="start" fill="#111" stroke="#111" stroke-width="0.12">65 of 96</text>
<text transform="translate(545.70,115.93) scale(0.9,1)" font-size="8.2" text-anchor="start" fill="#111" stroke="#111" stroke-width="0.12">50 (76.9 ± 5.2%)</text>
<text transform="translate(611.00,115.93) scale(0.9,1)" font-size="8.2" text-anchor="start" fill="#111" stroke="#111" stroke-width="0.12">15 (23.1 ± 5.2%)</text>
<text transform="translate(422.00,130.30) scale(0.9,1)" font-size="8.2" text-anchor="start" fill="#e8231e" stroke="#e8231e" stroke-width="0.12">Rfam CM</text>
<text transform="translate(499.40,130.30) scale(0.9,1)" font-size="8.2" text-anchor="start" fill="#111" stroke="#111" stroke-width="0.12">14 of 16</text>
<text transform="translate(545.70,130.30) scale(0.9,1)" font-size="8.2" text-anchor="start" fill="#111" stroke="#111" stroke-width="0.12">0 (0%)</text>
<text transform="translate(611.00,130.30) scale(0.9,1)" font-size="8.2" text-anchor="start" fill="#111" stroke="#111" stroke-width="0.12">14 (100%)</text>
<text transform="translate(422.00,144.67) scale(0.9,1)" font-size="8.2" text-anchor="start" fill="#1f3ce8" stroke="#1f3ce8" stroke-width="0.12">RBM</text>
<text transform="translate(499.40,144.67) scale(0.9,1)" font-size="8.2" text-anchor="start" fill="#111" stroke="#111" stroke-width="0.12">59 of 84</text>
<text transform="translate(545.70,144.67) scale(0.9,1)" font-size="8.2" text-anchor="start" fill="#111" stroke="#111" stroke-width="0.12">14 (23.7 ± 5.5%)</text>
<text transform="translate(611.00,144.67) scale(0.9,1)" font-size="8.2" text-anchor="start" fill="#111" stroke="#111" stroke-width="0.12">45 (76.3 ± 5.5%)</text>
<text transform="translate(422.00,159.04) scale(0.9,1)" font-size="8.2" text-anchor="start" fill="#1f3ce8" stroke="#1f3ce8" stroke-width="0.12">RBM(RBMscore&gt;300)</text>
<text transform="translate(499.40,159.04) scale(0.9,1)" font-size="8.2" text-anchor="start" fill="#111" stroke="#111" stroke-width="0.12">40 of 53</text>
<text transform="translate(545.70,159.04) scale(0.9,1)" font-size="8.2" text-anchor="start" fill="#111" stroke="#111" stroke-width="0.12">14 (35.0 ± 7.5%)</text>
<text transform="translate(611.00,159.04) scale(0.9,1)" font-size="8.2" text-anchor="start" fill="#111" stroke="#111" stroke-width="0.12">26 (65.0 ± 7.5%)</text>
<text transform="translate(422.00,173.41) scale(0.9,1)" font-size="8.2" text-anchor="start" fill="#1f3ce8" stroke="#1f3ce8" stroke-width="0.12">RBM(RBMscore&gt;310)</text>
<text transform="translate(499.40,173.41) scale(0.9,1)" font-size="8.2" text-anchor="start" fill="#111" stroke="#111" stroke-width="0.12">31 of 40</text>
<text transform="translate(545.70,173.41) scale(0.9,1)" font-size="8.2" text-anchor="start" fill="#111" stroke="#111" stroke-width="0.12">12 (38.7 ± 8.7%)</text>
<text transform="translate(611.00,173.41) scale(0.9,1)" font-size="8.2" text-anchor="start" fill="#111" stroke="#111" stroke-width="0.12">19 (61.3 ± 8.7%)</text>
<text transform="translate(422.00,187.78) scale(0.9,1)" font-size="8.2" text-anchor="start" fill="#111" stroke="#111" stroke-width="0.12">All</text>
<text transform="translate(499.40,187.78) scale(0.9,1)" font-size="8.2" text-anchor="start" fill="#111" stroke="#111" stroke-width="0.12">218 of 301</text>
<text transform="translate(545.70,187.78) scale(0.9,1)" font-size="8.2" text-anchor="start" fill="#111" stroke="#111" stroke-width="0.12">111 (50.9 ± 3.4%)</text>
<text transform="translate(611.00,187.78) scale(0.9,1)" font-size="8.2" text-anchor="start" fill="#111" stroke="#111" stroke-width="0.12">107 (49.1 ± 3.4%)</text>
<text transform="translate(422.00,202.15) scale(0.9,1)" font-size="8.2" text-anchor="start" fill="#111" stroke="#111" stroke-width="0.12">All(RBM score&gt;300)</text>
<text transform="translate(499.40,202.15) scale(0.9,1)" font-size="8.2" text-anchor="start" fill="#111" stroke="#111" stroke-width="0.12">136 of 190</text>
<text transform="translate(545.70,202.15) scale(0.9,1)" font-size="8.2" text-anchor="start" fill="#111" stroke="#111" stroke-width="0.12">81 (59.6 ± 4.2%)</text>
<text transform="translate(611.00,202.15) scale(0.9,1)" font-size="8.2" text-anchor="start" fill="#111" stroke="#111" stroke-width="0.12">55 (40.4 ± 4.2%)</text>
<text transform="translate(422.00,216.52) scale(0.9,1)" font-size="8.2" text-anchor="start" fill="#111" stroke="#111" stroke-width="0.12">All(RBM score&gt;310)</text>
<text transform="translate(499.40,216.52) scale(0.9,1)" font-size="8.2" text-anchor="start" fill="#111" stroke="#111" stroke-width="0.12">96 of 136</text>
<text transform="translate(545.70,216.52) scale(0.9,1)" font-size="8.2" text-anchor="start" fill="#111" stroke="#111" stroke-width="0.12">62 (64.6 ± 4.9%)</text>
<text transform="translate(611.00,216.52) scale(0.9,1)" font-size="8.2" text-anchor="start" fill="#111" stroke="#111" stroke-width="0.12">34 (35.4 ± 4.9%)</text>
<text transform="translate(544.00,242.45) scale(0.85,1)" font-size="8.2" text-anchor="start" fill="#111" font-weight="bold" stroke="#111" stroke-width="0.12" text-decoration="underline">Manual analysis</text>
<text transform="translate(431.00,252.45) scale(0.9,1)" font-size="8.2" text-anchor="start" fill="#111" font-weight="bold" stroke="#111" stroke-width="0.12">H)</text>
<text transform="translate(510.40,256.85) scale(0.9,1)" font-size="8.2" text-anchor="start" fill="#111" stroke="#111" stroke-width="0.12">Responsive</text>
<text transform="translate(552.40,256.85) scale(0.9,1)" font-size="8.2" text-anchor="start" fill="#111" stroke="#111" stroke-width="0.12">Non-responsive</text>
<text transform="translate(608.40,256.85) scale(0.9,1)" font-size="8.2" text-anchor="start" fill="#111" stroke="#111" stroke-width="0.12">No data</text>
<text transform="translate(652.00,256.85) scale(0.9,1)" font-size="8.2" text-anchor="start" fill="#111" font-weight="bold" stroke="#111" stroke-width="0.12">Total</text>
<rect x="420.60" y="260.00" width="251.00" height="13.20" fill="#ebebeb"/>
<rect x="420.60" y="286.40" width="251.00" height="13.20" fill="#ebebeb"/>
<rect x="420.60" y="312.80" width="251.00" height="13.20" fill="#ebebeb"/>
<line x1="420.60" y1="312.60" x2="671.60" y2="312.60" stroke="#a8d4f0" stroke-width="0.9"/>
<text transform="translate(422.00,270.05) scale(0.9,1)" font-size="8.2" text-anchor="start" fill="#111" stroke="#111" stroke-width="0.12">Resp. (auto.)</text>
<text transform="translate(510.40,270.05) scale(0.9,1)" font-size="8.2" text-anchor="start" fill="#111" font-weight="bold" stroke="#111" stroke-width="0.12">91</text>
<text transform="translate(552.40,270.05) scale(0.9,1)" font-size="8.2" text-anchor="start" fill="#111" stroke="#111" stroke-width="0.12">5</text>
<text transform="translate(608.40,270.05) scale(0.9,1)" font-size="8.2" text-anchor="start" fill="#111" stroke="#111" stroke-width="0.12">1</text>
<text transform="translate(652.00,270.05) scale(0.9,1)" font-size="8.2" text-anchor="start" fill="#111" stroke="#111" stroke-width="0.12">97</text>
<text transform="translate(422.00,283.25) scale(0.9,1)" font-size="8.2" text-anchor="start" fill="#111" stroke="#111" stroke-width="0.12">Non-resp. (auto.)</text>
<text transform="translate(510.40,283.25) scale(0.9,1)" font-size="8.2" text-anchor="start" fill="#111" stroke="#111" stroke-width="0.12">27</text>
<text transform="translate(552.40,283.25) scale(0.9,1)" font-size="8.2" text-anchor="start" fill="#111" font-weight="bold" stroke="#111" stroke-width="0.12">19</text>
<text transform="translate(608.40,283.25) scale(0.9,1)" font-size="8.2" text-anchor="start" fill="#111" stroke="#111" stroke-width="0.12">2</text>
<text transform="translate(652.00,283.25) scale(0.9,1)" font-size="8.2" text-anchor="start" fill="#111" stroke="#111" stroke-width="0.12">48</text>
<text transform="translate(422.00,296.45) scale(0.9,1)" font-size="8.2" text-anchor="start" fill="#111" stroke="#111" stroke-width="0.12">Inconclusive (auto.)</text>
<text transform="translate(510.40,296.45) scale(0.9,1)" font-size="8.2" text-anchor="start" fill="#111" stroke="#111" stroke-width="0.12">8</text>
<text transform="translate(552.40,296.45) scale(0.9,1)" font-size="8.2" text-anchor="start" fill="#111" stroke="#111" stroke-width="0.12">2</text>
<text transform="translate(608.40,296.45) scale(0.9,1)" font-size="8.2" text-anchor="start" fill="#111" font-weight="bold" stroke="#111" stroke-width="0.12">46</text>
<text transform="translate(652.00,296.45) scale(0.9,1)" font-size="8.2" text-anchor="start" fill="#111" stroke="#111" stroke-width="0.12">56</text>
<text transform="translate(422.00,309.55) scale(0.9,1)" font-size="8.2" text-anchor="start" fill="#111" font-weight="bold" stroke="#111" stroke-width="0.12">Total</text>
<text transform="translate(510.40,309.55) scale(0.9,1)" font-size="8.2" text-anchor="start" fill="#111" stroke="#111" stroke-width="0.12">126</text>
<text transform="translate(552.40,309.55) scale(0.9,1)" font-size="8.2" text-anchor="start" fill="#111" stroke="#111" stroke-width="0.12">26</text>
<text transform="translate(608.40,309.55) scale(0.9,1)" font-size="8.2" text-anchor="start" fill="#111" stroke="#111" stroke-width="0.12">49</text>
<text transform="translate(652.00,309.55) scale(0.9,1)" font-size="8.2" text-anchor="start" fill="#111" font-weight="bold" stroke="#111" stroke-width="0.12">201</text>
<text transform="translate(422.00,322.85) scale(0.9,1)" font-size="8.2" text-anchor="start" fill="#111" stroke="#111" stroke-width="0.12">N-r./SAM pocket prot.</text>
<text transform="translate(510.40,322.85) scale(0.9,1)" font-size="8.2" text-anchor="start" fill="#111" font-weight="bold" stroke="#111" stroke-width="0.12">7</text>
<text transform="translate(552.40,322.85) scale(0.9,1)" font-size="8.2" text-anchor="start" fill="#111" stroke="#111" stroke-width="0.12">0</text>
<text transform="translate(608.40,322.85) scale(0.9,1)" font-size="8.2" text-anchor="start" fill="#111" stroke="#111" stroke-width="0.12">0</text>
<text transform="translate(652.00,322.85) scale(0.9,1)" font-size="8.2" text-anchor="start" fill="#111" stroke="#111" stroke-width="0.12">7</text>
<text transform="translate(422.00,336.05) scale(0.9,1)" font-size="8.2" text-anchor="start" fill="#111" stroke="#111" stroke-width="0.12">N-r./No SAM pocket prot.</text>
<text transform="translate(510.40,336.05) scale(0.9,1)" font-size="8.2" text-anchor="start" fill="#111" stroke="#111" stroke-width="0.12">20</text>
<text transform="translate(552.40,336.05) scale(0.9,1)" font-size="8.2" text-anchor="start" fill="#111" font-weight="bold" stroke="#111" stroke-width="0.12">12</text>
<text transform="translate(608.40,336.05) scale(0.9,1)" font-size="8.2" text-anchor="start" fill="#111" stroke="#111" stroke-width="0.12">0</text>
<text transform="translate(652.00,336.05) scale(0.9,1)" font-size="8.2" text-anchor="start" fill="#111" stroke="#111" stroke-width="0.12">32</text>
<text transform="translate(677.2,262) rotate(90) scale(0.82,1)" font-size="8.2" font-weight="bold" fill="#111" text-decoration="underline">Auto. analysis</text>
<text transform="translate(432.60,384.05) scale(0.9,1)" font-size="8.2" text-anchor="start" fill="#111" font-weight="bold" stroke="#111" stroke-width="0.12">I)</text>
<text transform="translate(448.40,379.85) scale(0.862,1)" font-size="8.2" text-anchor="start" fill="#1e5a9a" font-weight="bold" stroke="#1e5a9a" stroke-width="0.12">DMS+SHAPE</text>
<text transform="translate(429,426.5) rotate(-90) scale(0.84,1)" font-size="8.2" font-weight="bold" fill="#b82a22">SHAPE</text>
<text transform="translate(456.00,392.35) scale(0.9,1)" font-size="8.2" text-anchor="middle" fill="#2a64a4" stroke="#2a64a4" stroke-width="0.12">Yes</text>
<text transform="translate(470.30,392.35) scale(0.9,1)" font-size="8.2" text-anchor="middle" fill="#2a64a4" stroke="#2a64a4" stroke-width="0.12">No</text>
<text transform="translate(485.20,392.35) scale(0.9,1)" font-size="8.2" text-anchor="middle" fill="#2a64a4" stroke="#2a64a4" stroke-width="0.12">Inc.</text>
<text transform="translate(440.20,404.55) scale(0.9,1)" font-size="8.2" text-anchor="middle" fill="#b82a22" stroke="#b82a22" stroke-width="0.12">Yes</text>
<text transform="translate(440.20,416.95) scale(0.9,1)" font-size="8.2" text-anchor="middle" fill="#b82a22" stroke="#b82a22" stroke-width="0.12">No</text>
<text transform="translate(440.20,429.95) scale(0.9,1)" font-size="8.2" text-anchor="middle" fill="#b82a22" stroke="#b82a22" stroke-width="0.12">Inc.</text>
<text transform="translate(456.00,404.55) scale(0.9,1)" font-size="8.2" text-anchor="middle" fill="#3cba28" stroke="#3cba28" stroke-width="0.12">72</text>
<text transform="translate(470.30,404.55) scale(0.9,1)" font-size="8.2" text-anchor="middle" fill="#1a1a1a" stroke="#1a1a1a" stroke-width="0.12">2</text>
<text transform="translate(485.20,404.55) scale(0.9,1)" font-size="8.2" text-anchor="middle" fill="#1a1a1a" stroke="#1a1a1a" stroke-width="0.12">6</text>
<text transform="translate(456.00,416.95) scale(0.9,1)" font-size="8.2" text-anchor="middle" fill="#1a1a1a" stroke="#1a1a1a" stroke-width="0.12">1</text>
<text transform="translate(470.30,416.95) scale(0.9,1)" font-size="8.2" text-anchor="middle" fill="#3cba28" stroke="#3cba28" stroke-width="0.12">32</text>
<text transform="translate(485.20,416.95) scale(0.9,1)" font-size="8.2" text-anchor="middle" fill="#1a1a1a" stroke="#1a1a1a" stroke-width="0.12">2</text>
<text transform="translate(456.00,429.95) scale(0.9,1)" font-size="8.2" text-anchor="middle" fill="#1a1a1a" stroke="#1a1a1a" stroke-width="0.12">8</text>
<text transform="translate(470.30,429.95) scale(0.9,1)" font-size="8.2" text-anchor="middle" fill="#1a1a1a" stroke="#1a1a1a" stroke-width="0.12">3</text>
<text transform="translate(485.20,429.95) scale(0.9,1)" font-size="8.2" text-anchor="middle" fill="#3cba28" stroke="#3cba28" stroke-width="0.12">26</text>
<line x1="463.40" y1="383.40" x2="463.40" y2="432.60" stroke="#555" stroke-width="0.8"/>
<line x1="477.40" y1="383.40" x2="477.40" y2="432.60" stroke="#555" stroke-width="0.8"/>
<line x1="432.00" y1="407.90" x2="493.00" y2="407.90" stroke="#555" stroke-width="0.8"/>
<line x1="432.00" y1="420.70" x2="493.00" y2="420.70" stroke="#555" stroke-width="0.8"/>
<text transform="translate(519.80,392.35) scale(0.9,1)" font-size="8.2" text-anchor="middle" fill="#2a64a4" stroke="#2a64a4" stroke-width="0.12">Yes</text>
<text transform="translate(534.40,392.35) scale(0.9,1)" font-size="8.2" text-anchor="middle" fill="#2a64a4" stroke="#2a64a4" stroke-width="0.12">No</text>
<text transform="translate(548.60,392.35) scale(0.9,1)" font-size="8.2" text-anchor="middle" fill="#2a64a4" stroke="#2a64a4" stroke-width="0.12">Inc.</text>
<text transform="translate(503.00,404.55) scale(0.9,1)" font-size="8.2" text-anchor="middle" fill="#b82a22" stroke="#b82a22" stroke-width="0.12">Yes</text>
<text transform="translate(503.00,416.95) scale(0.9,1)" font-size="8.2" text-anchor="middle" fill="#b82a22" stroke="#b82a22" stroke-width="0.12">No</text>
<text transform="translate(503.00,429.95) scale(0.9,1)" font-size="8.2" text-anchor="middle" fill="#b82a22" stroke="#b82a22" stroke-width="0.12">Inc.</text>
<text transform="translate(519.80,404.55) scale(0.9,1)" font-size="8.2" text-anchor="middle" fill="#3cba28" stroke="#3cba28" stroke-width="0.12">13</text>
<text transform="translate(534.40,404.55) scale(0.9,1)" font-size="8.2" text-anchor="middle" fill="#1a1a1a" stroke="#1a1a1a" stroke-width="0.12">1</text>
<text transform="translate(548.60,404.55) scale(0.9,1)" font-size="8.2" text-anchor="middle" fill="#1a1a1a" stroke="#1a1a1a" stroke-width="0.12">0</text>
<text transform="translate(519.80,416.95) scale(0.9,1)" font-size="8.2" text-anchor="middle" fill="#1a1a1a" stroke="#1a1a1a" stroke-width="0.12">1</text>
<text transform="translate(534.40,416.95) scale(0.9,1)" font-size="8.2" text-anchor="middle" fill="#3cba28" stroke="#3cba28" stroke-width="0.12">44</text>
<text transform="translate(548.60,416.95) scale(0.9,1)" font-size="8.2" text-anchor="middle" fill="#1a1a1a" stroke="#1a1a1a" stroke-width="0.12">0</text>
<text transform="translate(519.80,429.95) scale(0.9,1)" font-size="8.2" text-anchor="middle" fill="#1a1a1a" stroke="#1a1a1a" stroke-width="0.12">3</text>
<text transform="translate(534.40,429.95) scale(0.9,1)" font-size="8.2" text-anchor="middle" fill="#1a1a1a" stroke="#1a1a1a" stroke-width="0.12">9</text>
<text transform="translate(548.60,429.95) scale(0.9,1)" font-size="8.2" text-anchor="middle" fill="#3cba28" stroke="#3cba28" stroke-width="0.12">13</text>
<line x1="527.40" y1="383.40" x2="527.40" y2="432.60" stroke="#555" stroke-width="0.8"/>
<line x1="541.40" y1="383.40" x2="541.40" y2="432.60" stroke="#555" stroke-width="0.8"/>
<line x1="496.00" y1="407.90" x2="557.00" y2="407.90" stroke="#555" stroke-width="0.8"/>
<line x1="496.00" y1="420.70" x2="557.00" y2="420.70" stroke="#555" stroke-width="0.8"/>
<text transform="translate(584.00,391.81) scale(0.9,1)" font-size="7.8" text-anchor="middle" fill="#2a64a4" stroke="#2a64a4" stroke-width="0.12">Yes</text>
<text transform="translate(598.40,391.81) scale(0.9,1)" font-size="7.8" text-anchor="middle" fill="#2a64a4" stroke="#2a64a4" stroke-width="0.12">No</text>
<text transform="translate(612.60,391.81) scale(0.9,1)" font-size="7.8" text-anchor="middle" fill="#2a64a4" stroke="#2a64a4" stroke-width="0.12">Inc.</text>
<text transform="translate(568.00,404.21) scale(0.9,1)" font-size="7.8" text-anchor="middle" fill="#b82a22" stroke="#b82a22" stroke-width="0.12">Yes</text>
<text transform="translate(568.00,416.21) scale(0.9,1)" font-size="7.8" text-anchor="middle" fill="#b82a22" stroke="#b82a22" stroke-width="0.12">No</text>
<text transform="translate(568.00,428.21) scale(0.9,1)" font-size="7.8" text-anchor="middle" fill="#b82a22" stroke="#b82a22" stroke-width="0.12">Inc.</text>
<text transform="translate(584.00,404.21) scale(0.9,1)" font-size="7.8" text-anchor="middle" fill="#3cba28" stroke="#3cba28" stroke-width="0.12">13</text>
<text transform="translate(598.40,404.21) scale(0.9,1)" font-size="7.8" text-anchor="middle" fill="#1a1a1a" stroke="#1a1a1a" stroke-width="0.12">1</text>
<text transform="translate(612.60,404.21) scale(0.9,1)" font-size="7.8" text-anchor="middle" fill="#1a1a1a" stroke="#1a1a1a" stroke-width="0.12">0</text>
<text transform="translate(584.00,416.21) scale(0.9,1)" font-size="7.8" text-anchor="middle" fill="#1a1a1a" stroke="#1a1a1a" stroke-width="0.12">1</text>
<text transform="translate(598.40,416.21) scale(0.9,1)" font-size="7.8" text-anchor="middle" fill="#3cba28" stroke="#3cba28" stroke-width="0.12">25</text>
<text transform="translate(612.60,416.21) scale(0.9,1)" font-size="7.8" text-anchor="middle" fill="#1a1a1a" stroke="#1a1a1a" stroke-width="0.12">0</text>
<text transform="translate(584.00,428.21) scale(0.9,1)" font-size="7.8" text-anchor="middle" fill="#1a1a1a" stroke="#1a1a1a" stroke-width="0.12">3</text>
<text transform="translate(598.40,428.21) scale(0.9,1)" font-size="7.8" text-anchor="middle" fill="#1a1a1a" stroke="#1a1a1a" stroke-width="0.12">5</text>
<text transform="translate(612.60,428.21) scale(0.9,1)" font-size="7.8" text-anchor="middle" fill="#3cba28" stroke="#3cba28" stroke-width="0.12">5</text>
<line x1="591.60" y1="383.40" x2="591.60" y2="432.60" stroke="#555" stroke-width="0.8"/>
<line x1="605.60" y1="383.40" x2="605.60" y2="432.60" stroke="#555" stroke-width="0.8"/>
<line x1="560.40" y1="407.50" x2="620.40" y2="407.50" stroke="#555" stroke-width="0.8"/>
<line x1="560.40" y1="419.60" x2="620.40" y2="419.60" stroke="#555" stroke-width="0.8"/>
<text transform="translate(647.40,392.35) scale(0.9,1)" font-size="8.2" text-anchor="middle" fill="#2a64a4" stroke="#2a64a4" stroke-width="0.12">Yes</text>
<text transform="translate(662.00,392.35) scale(0.9,1)" font-size="8.2" text-anchor="middle" fill="#2a64a4" stroke="#2a64a4" stroke-width="0.12">No</text>
<text transform="translate(677.00,392.35) scale(0.9,1)" font-size="8.2" text-anchor="middle" fill="#2a64a4" stroke="#2a64a4" stroke-width="0.12">Inc.</text>
<text transform="translate(632.00,404.55) scale(0.9,1)" font-size="8.2" text-anchor="middle" fill="#b82a22" stroke="#b82a22" stroke-width="0.12">Yes</text>
<text transform="translate(632.00,416.95) scale(0.9,1)" font-size="8.2" text-anchor="middle" fill="#b82a22" stroke="#b82a22" stroke-width="0.12">No</text>
<text transform="translate(632.00,429.95) scale(0.9,1)" font-size="8.2" text-anchor="middle" fill="#b82a22" stroke="#b82a22" stroke-width="0.12">Inc.</text>
<text transform="translate(647.40,404.55) scale(0.9,1)" font-size="8.2" text-anchor="middle" fill="#3cba28" stroke="#3cba28" stroke-width="0.12">0</text>
<text transform="translate(662.00,404.55) scale(0.9,1)" font-size="8.2" text-anchor="middle" fill="#1a1a1a" stroke="#1a1a1a" stroke-width="0.12">0</text>
<text transform="translate(677.00,404.55) scale(0.9,1)" font-size="8.2" text-anchor="middle" fill="#1a1a1a" stroke="#1a1a1a" stroke-width="0.12">0</text>
<text transform="translate(647.40,416.95) scale(0.9,1)" font-size="8.2" text-anchor="middle" fill="#1a1a1a" stroke="#1a1a1a" stroke-width="0.12">0</text>
<text transform="translate(662.00,416.95) scale(0.9,1)" font-size="8.2" text-anchor="middle" fill="#3cba28" stroke="#3cba28" stroke-width="0.12">15</text>
<text transform="translate(677.00,416.95) scale(0.9,1)" font-size="8.2" text-anchor="middle" fill="#1a1a1a" stroke="#1a1a1a" stroke-width="0.12">0</text>
<text transform="translate(647.40,429.95) scale(0.9,1)" font-size="8.2" text-anchor="middle" fill="#1a1a1a" stroke="#1a1a1a" stroke-width="0.12">0</text>
<text transform="translate(662.00,429.95) scale(0.9,1)" font-size="8.2" text-anchor="middle" fill="#1a1a1a" stroke="#1a1a1a" stroke-width="0.12">0</text>
<text transform="translate(677.00,429.95) scale(0.9,1)" font-size="8.2" text-anchor="middle" fill="#3cba28" stroke="#3cba28" stroke-width="0.12">1</text>
<line x1="655.60" y1="383.40" x2="655.60" y2="432.60" stroke="#555" stroke-width="0.8"/>
<line x1="669.00" y1="383.40" x2="669.00" y2="432.60" stroke="#555" stroke-width="0.8"/>
<line x1="624.00" y1="407.90" x2="685.00" y2="407.90" stroke="#555" stroke-width="0.8"/>
<line x1="624.00" y1="420.70" x2="685.00" y2="420.70" stroke="#555" stroke-width="0.8"/>
<text transform="translate(470.30,446.05) scale(0.9,1)" font-size="8.2" text-anchor="middle" fill="#111" font-weight="bold" stroke="#111" stroke-width="0.12">Natural</text>
<text transform="translate(534.80,446.05) scale(0.9,1)" font-size="8.2" text-anchor="middle" fill="#111" font-weight="bold" stroke="#111" stroke-width="0.12">RBM</text>
<text transform="translate(600.00,445.65) scale(0.9,1)" font-size="8.2" text-anchor="middle" fill="#111" font-weight="bold" stroke="#111" stroke-width="0.12">RBM</text>
<text transform="translate(599.60,454.85) scale(0.9,1)" font-size="8.2" text-anchor="middle" fill="#111" font-weight="bold" stroke="#111" stroke-width="0.12">(RBMscore &gt; 300)</text>
<text transform="translate(662.00,445.65) scale(0.9,1)" font-size="8.2" text-anchor="middle" fill="#111" font-weight="bold" stroke="#111" stroke-width="0.12">rCM</text>
<line x1="315.60" y1="31.30" x2="315.60" y2="37.90" stroke="#17a59e" stroke-width="0.8"/>
<line x1="319.60" y1="31.30" x2="319.60" y2="37.90" stroke="#17a59e" stroke-width="0.8"/>
<line x1="315.60" y1="31.30" x2="319.60" y2="31.30" stroke="#17a59e" stroke-width="0.9"/>
<line x1="315.60" y1="37.90" x2="319.60" y2="37.90" stroke="#17a59e" stroke-width="0.9"/>
<line x1="323.60" y1="31.30" x2="323.60" y2="37.90" stroke="#17a59e" stroke-width="0.8"/>
<line x1="319.60" y1="31.30" x2="323.60" y2="31.30" stroke="#17a59e" stroke-width="0.9"/>
<line x1="319.60" y1="37.90" x2="323.60" y2="37.90" stroke="#17a59e" stroke-width="0.9"/>
<line x1="339.20" y1="37.60" x2="334.60" y2="42.20" stroke="#17a59e" stroke-width="0.8"/>
<line x1="341.98" y1="40.42" x2="337.30" y2="45.00" stroke="#17a59e" stroke-width="0.8"/>
<line x1="339.20" y1="37.60" x2="341.98" y2="40.42" stroke="#17a59e" stroke-width="0.9"/>
<line x1="334.60" y1="42.20" x2="337.30" y2="45.00" stroke="#17a59e" stroke-width="0.9"/>
<line x1="344.75" y1="43.25" x2="340.00" y2="47.80" stroke="#17a59e" stroke-width="0.8"/>
<line x1="341.98" y1="40.42" x2="344.75" y2="43.25" stroke="#17a59e" stroke-width="0.9"/>
<line x1="337.30" y1="45.00" x2="340.00" y2="47.80" stroke="#17a59e" stroke-width="0.9"/>
<line x1="347.52" y1="46.08" x2="342.70" y2="50.60" stroke="#17a59e" stroke-width="0.8"/>
<line x1="344.75" y1="43.25" x2="347.52" y2="46.08" stroke="#17a59e" stroke-width="0.9"/>
<line x1="340.00" y1="47.80" x2="342.70" y2="50.60" stroke="#17a59e" stroke-width="0.9"/>
<line x1="350.30" y1="48.90" x2="345.40" y2="53.40" stroke="#17a59e" stroke-width="0.8"/>
<line x1="347.52" y1="46.08" x2="350.30" y2="48.90" stroke="#17a59e" stroke-width="0.9"/>
<line x1="342.70" y1="50.60" x2="345.40" y2="53.40" stroke="#17a59e" stroke-width="0.9"/>
<line x1="358.60" y1="11.90" x2="365.10" y2="10.90" stroke="#17a59e" stroke-width="0.8"/>
<line x1="359.40" y1="15.90" x2="366.10" y2="14.90" stroke="#17a59e" stroke-width="0.8"/>
<line x1="358.60" y1="11.90" x2="359.40" y2="15.90" stroke="#17a59e" stroke-width="0.9"/>
<line x1="365.10" y1="10.90" x2="366.10" y2="14.90" stroke="#17a59e" stroke-width="0.9"/>
<line x1="360.10" y1="19.40" x2="366.80" y2="18.40" stroke="#17a59e" stroke-width="0.8"/>
<line x1="359.40" y1="15.90" x2="360.10" y2="19.40" stroke="#17a59e" stroke-width="0.9"/>
<line x1="366.10" y1="14.90" x2="366.80" y2="18.40" stroke="#17a59e" stroke-width="0.9"/>
<line x1="360.60" y1="23.30" x2="367.40" y2="22.30" stroke="#17a59e" stroke-width="0.8"/>
<line x1="360.10" y1="19.40" x2="360.60" y2="23.30" stroke="#17a59e" stroke-width="0.9"/>
<line x1="366.80" y1="18.40" x2="367.40" y2="22.30" stroke="#17a59e" stroke-width="0.9"/>
<line x1="358.10" y1="30.30" x2="365.80" y2="30.80" stroke="#17a59e" stroke-width="0.8"/>
<line x1="356.10" y1="34.30" x2="363.10" y2="34.30" stroke="#17a59e" stroke-width="0.8"/>
<line x1="358.10" y1="30.30" x2="356.10" y2="34.30" stroke="#17a59e" stroke-width="0.9"/>
<line x1="365.80" y1="30.80" x2="363.10" y2="34.30" stroke="#17a59e" stroke-width="0.9"/>
<line x1="354.70" y1="37.70" x2="361.60" y2="37.70" stroke="#17a59e" stroke-width="0.8"/>
<line x1="356.10" y1="34.30" x2="354.70" y2="37.70" stroke="#17a59e" stroke-width="0.9"/>
<line x1="363.10" y1="34.30" x2="361.60" y2="37.70" stroke="#17a59e" stroke-width="0.9"/>
<line x1="353.70" y1="41.70" x2="360.80" y2="41.20" stroke="#17a59e" stroke-width="0.8"/>
<line x1="354.70" y1="37.70" x2="353.70" y2="41.70" stroke="#17a59e" stroke-width="0.9"/>
<line x1="361.60" y1="37.70" x2="360.80" y2="41.20" stroke="#17a59e" stroke-width="0.9"/>
<line x1="353.20" y1="45.70" x2="360.10" y2="44.70" stroke="#17a59e" stroke-width="0.8"/>
<line x1="353.70" y1="41.70" x2="353.20" y2="45.70" stroke="#17a59e" stroke-width="0.9"/>
<line x1="360.80" y1="41.20" x2="360.10" y2="44.70" stroke="#17a59e" stroke-width="0.9"/>
<line x1="360.60" y1="23.30" x2="360.10" y2="26.80" stroke="#17a59e" stroke-width="0.7"/>
<line x1="360.10" y1="26.80" x2="358.10" y2="30.30" stroke="#17a59e" stroke-width="0.7"/>
<line x1="367.40" y1="22.30" x2="365.80" y2="30.80" stroke="#17a59e" stroke-width="0.7"/>
<line x1="351.60" y1="67.90" x2="358.10" y2="67.90" stroke="#17a59e" stroke-width="0.8"/>
<line x1="351.60" y1="71.87" x2="358.10" y2="71.87" stroke="#17a59e" stroke-width="0.8"/>
<line x1="351.60" y1="67.90" x2="351.60" y2="71.87" stroke="#17a59e" stroke-width="0.9"/>
<line x1="358.10" y1="67.90" x2="358.10" y2="71.87" stroke="#17a59e" stroke-width="0.9"/>
<line x1="351.60" y1="75.84" x2="358.10" y2="75.84" stroke="#17a59e" stroke-width="0.8"/>
<line x1="351.60" y1="71.87" x2="351.60" y2="75.84" stroke="#17a59e" stroke-width="0.9"/>
<line x1="358.10" y1="71.87" x2="358.10" y2="75.84" stroke="#17a59e" stroke-width="0.9"/>
<line x1="351.60" y1="79.81" x2="358.10" y2="79.81" stroke="#17a59e" stroke-width="0.8"/>
<line x1="351.60" y1="75.84" x2="351.60" y2="79.81" stroke="#17a59e" stroke-width="0.9"/>
<line x1="358.10" y1="75.84" x2="358.10" y2="79.81" stroke="#17a59e" stroke-width="0.9"/>
<line x1="351.60" y1="83.79" x2="358.10" y2="83.79" stroke="#17a59e" stroke-width="0.8"/>
<line x1="351.60" y1="79.81" x2="351.60" y2="83.79" stroke="#17a59e" stroke-width="0.9"/>
<line x1="358.10" y1="79.81" x2="358.10" y2="83.79" stroke="#17a59e" stroke-width="0.9"/>
<line x1="351.60" y1="87.76" x2="358.10" y2="87.76" stroke="#17a59e" stroke-width="0.8"/>
<line x1="351.60" y1="83.79" x2="351.60" y2="87.76" stroke="#17a59e" stroke-width="0.9"/>
<line x1="358.10" y1="83.79" x2="358.10" y2="87.76" stroke="#17a59e" stroke-width="0.9"/>
<line x1="351.60" y1="91.73" x2="358.10" y2="91.73" stroke="#17a59e" stroke-width="0.8"/>
<line x1="351.60" y1="87.76" x2="351.60" y2="91.73" stroke="#17a59e" stroke-width="0.9"/>
<line x1="358.10" y1="87.76" x2="358.10" y2="91.73" stroke="#17a59e" stroke-width="0.9"/>
<line x1="351.60" y1="95.70" x2="358.10" y2="95.70" stroke="#17a59e" stroke-width="0.8"/>
<line x1="351.60" y1="91.73" x2="351.60" y2="95.70" stroke="#17a59e" stroke-width="0.9"/>
<line x1="358.10" y1="91.73" x2="358.10" y2="95.70" stroke="#17a59e" stroke-width="0.9"/>
<line x1="364.70" y1="61.00" x2="361.20" y2="66.60" stroke="#3a8cc8" stroke-width="0.7"/>
<line x1="367.20" y1="73.40" x2="373.20" y2="70.90" stroke="#17a59e" stroke-width="0.8"/>
<line x1="368.68" y1="76.45" x2="374.68" y2="73.88" stroke="#17a59e" stroke-width="0.8"/>
<line x1="367.20" y1="73.40" x2="368.68" y2="76.45" stroke="#17a59e" stroke-width="0.9"/>
<line x1="373.20" y1="70.90" x2="374.68" y2="73.88" stroke="#17a59e" stroke-width="0.9"/>
<line x1="370.17" y1="79.50" x2="376.17" y2="76.87" stroke="#17a59e" stroke-width="0.8"/>
<line x1="368.68" y1="76.45" x2="370.17" y2="79.50" stroke="#17a59e" stroke-width="0.9"/>
<line x1="374.68" y1="73.88" x2="376.17" y2="76.87" stroke="#17a59e" stroke-width="0.9"/>
<line x1="371.65" y1="82.55" x2="377.65" y2="79.85" stroke="#17a59e" stroke-width="0.8"/>
<line x1="370.17" y1="79.50" x2="371.65" y2="82.55" stroke="#17a59e" stroke-width="0.9"/>
<line x1="376.17" y1="76.87" x2="377.65" y2="79.85" stroke="#17a59e" stroke-width="0.9"/>
<line x1="373.13" y1="85.60" x2="379.13" y2="82.83" stroke="#17a59e" stroke-width="0.8"/>
<line x1="371.65" y1="82.55" x2="373.13" y2="85.60" stroke="#17a59e" stroke-width="0.9"/>
<line x1="377.65" y1="79.85" x2="379.13" y2="82.83" stroke="#17a59e" stroke-width="0.9"/>
<line x1="374.62" y1="88.65" x2="380.62" y2="85.82" stroke="#17a59e" stroke-width="0.8"/>
<line x1="373.13" y1="85.60" x2="374.62" y2="88.65" stroke="#17a59e" stroke-width="0.9"/>
<line x1="379.13" y1="82.83" x2="380.62" y2="85.82" stroke="#17a59e" stroke-width="0.9"/>
<line x1="376.10" y1="91.70" x2="382.10" y2="88.80" stroke="#17a59e" stroke-width="0.8"/>
<line x1="374.62" y1="88.65" x2="376.10" y2="91.70" stroke="#17a59e" stroke-width="0.9"/>
<line x1="380.62" y1="85.82" x2="382.10" y2="88.80" stroke="#17a59e" stroke-width="0.9"/>
<circle cx="315.60" cy="31.30" r="1.35" fill="#17a59e" stroke="none" stroke-width="1.0"/>
<circle cx="319.60" cy="31.30" r="1.35" fill="#17a59e" stroke="none" stroke-width="1.0"/>
<circle cx="323.60" cy="31.30" r="1.35" fill="#17a59e" stroke="none" stroke-width="1.0"/>
<circle cx="315.60" cy="37.90" r="1.35" fill="#17a59e" stroke="none" stroke-width="1.0"/>
<circle cx="319.60" cy="37.90" r="1.35" fill="#17a59e" stroke="none" stroke-width="1.0"/>
<circle cx="323.60" cy="37.90" r="1.35" fill="#17a59e" stroke="none" stroke-width="1.0"/>
<circle cx="312.40" cy="29.80" r="1.35" fill="#222" stroke="none" stroke-width="1.0"/>
<circle cx="309.00" cy="31.60" r="1.35" fill="#222" stroke="none" stroke-width="1.0"/>
<circle cx="307.50" cy="34.60" r="1.35" fill="#222" stroke="none" stroke-width="1.0"/>
<circle cx="309.00" cy="37.50" r="1.35" fill="#222" stroke="none" stroke-width="1.0"/>
<circle cx="312.40" cy="39.20" r="1.35" fill="#f7941d" stroke="none" stroke-width="1.0"/>
<circle cx="325.60" cy="28.80" r="1.35" fill="#f7941d" stroke="none" stroke-width="1.0"/>
<circle cx="328.80" cy="26.60" r="1.35" fill="#f7941d" stroke="none" stroke-width="1.0"/>
<circle cx="332.80" cy="26.30" r="1.35" fill="#f7941d" stroke="none" stroke-width="1.0"/>
<circle cx="336.10" cy="27.80" r="1.35" fill="#f7941d" stroke="none" stroke-width="1.0"/>
<circle cx="338.80" cy="30.80" r="1.35" fill="#f7941d" stroke="none" stroke-width="1.0"/>
<circle cx="339.80" cy="34.30" r="1.35" fill="#f7941d" stroke="none" stroke-width="1.0"/>
<circle cx="325.40" cy="40.20" r="1.35" fill="#f7941d" stroke="none" stroke-width="1.0"/>
<circle cx="328.00" cy="42.50" r="1.35" fill="#f7941d" stroke="none" stroke-width="1.0"/>
<circle cx="331.30" cy="42.90" r="1.35" fill="#f7941d" stroke="none" stroke-width="1.0"/>
<circle cx="339.20" cy="37.60" r="1.35" fill="#17a59e" stroke="none" stroke-width="1.0"/>
<circle cx="341.98" cy="40.42" r="1.35" fill="#17a59e" stroke="none" stroke-width="1.0"/>
<circle cx="344.75" cy="43.25" r="1.35" fill="#17a59e" stroke="none" stroke-width="1.0"/>
<circle cx="347.52" cy="46.08" r="1.35" fill="#17a59e" stroke="none" stroke-width="1.0"/>
<circle cx="350.30" cy="48.90" r="1.35" fill="#17a59e" stroke="none" stroke-width="1.0"/>
<circle cx="334.60" cy="42.20" r="1.35" fill="#17a59e" stroke="none" stroke-width="1.0"/>
<circle cx="337.30" cy="45.00" r="1.35" fill="#17a59e" stroke="none" stroke-width="1.0"/>
<circle cx="340.00" cy="47.80" r="1.35" fill="#17a59e" stroke="none" stroke-width="1.0"/>
<circle cx="342.70" cy="50.60" r="1.35" fill="#17a59e" stroke="none" stroke-width="1.0"/>
<circle cx="345.40" cy="53.40" r="1.35" fill="#17a59e" stroke="none" stroke-width="1.0"/>
<circle cx="344.26" cy="56.89" r="1.35" fill="#f7941d" stroke="none" stroke-width="1.0"/>
<circle cx="344.51" cy="60.56" r="1.35" fill="#f7941d" stroke="none" stroke-width="1.0"/>
<circle cx="346.01" cy="63.93" r="1.35" fill="#f7941d" stroke="none" stroke-width="1.0"/>
<circle cx="348.57" cy="66.58" r="1.35" fill="#f7941d" stroke="none" stroke-width="1.0"/>
<circle cx="362.43" cy="50.64" r="1.35" fill="#f7941d" stroke="none" stroke-width="1.0"/>
<circle cx="364.63" cy="54.03" r="1.35" fill="#f7941d" stroke="none" stroke-width="1.0"/>
<circle cx="365.40" cy="57.82" r="1.35" fill="#f7941d" stroke="none" stroke-width="1.0"/>
<circle cx="358.60" cy="11.90" r="1.35" fill="#17a59e" stroke="none" stroke-width="1.0"/>
<circle cx="359.40" cy="15.90" r="1.35" fill="#17a59e" stroke="none" stroke-width="1.0"/>
<circle cx="360.10" cy="19.40" r="1.35" fill="#17a59e" stroke="none" stroke-width="1.0"/>
<circle cx="360.60" cy="23.30" r="1.35" fill="#17a59e" stroke="none" stroke-width="1.0"/>
<circle cx="365.10" cy="10.90" r="1.35" fill="#17a59e" stroke="none" stroke-width="1.0"/>
<circle cx="366.10" cy="14.90" r="1.35" fill="#17a59e" stroke="none" stroke-width="1.0"/>
<circle cx="366.80" cy="18.40" r="1.35" fill="#17a59e" stroke="none" stroke-width="1.0"/>
<circle cx="367.40" cy="22.30" r="1.35" fill="#17a59e" stroke="none" stroke-width="1.0"/>
<circle cx="358.10" cy="30.30" r="1.35" fill="#17a59e" stroke="none" stroke-width="1.0"/>
<circle cx="356.10" cy="34.30" r="1.35" fill="#17a59e" stroke="none" stroke-width="1.0"/>
<circle cx="354.70" cy="37.70" r="1.35" fill="#17a59e" stroke="none" stroke-width="1.0"/>
<circle cx="353.70" cy="41.70" r="1.35" fill="#17a59e" stroke="none" stroke-width="1.0"/>
<circle cx="353.20" cy="45.70" r="1.35" fill="#17a59e" stroke="none" stroke-width="1.0"/>
<circle cx="365.80" cy="30.80" r="1.35" fill="#17a59e" stroke="none" stroke-width="1.0"/>
<circle cx="363.10" cy="34.30" r="1.35" fill="#17a59e" stroke="none" stroke-width="1.0"/>
<circle cx="361.60" cy="37.70" r="1.35" fill="#17a59e" stroke="none" stroke-width="1.0"/>
<circle cx="360.80" cy="41.20" r="1.35" fill="#17a59e" stroke="none" stroke-width="1.0"/>
<circle cx="360.10" cy="44.70" r="1.35" fill="#17a59e" stroke="none" stroke-width="1.0"/>
<circle cx="360.10" cy="26.80" r="1.35" fill="#17a59e" stroke="none" stroke-width="1.0"/>
<circle cx="355.10" cy="32.30" r="1.35" fill="#f7941d" stroke="none" stroke-width="1.0"/>
<circle cx="369.00" cy="25.30" r="1.35" fill="#f7941d" stroke="none" stroke-width="1.0"/>
<circle cx="368.60" cy="28.80" r="1.35" fill="#f7941d" stroke="none" stroke-width="1.0"/>
<circle cx="356.88" cy="9.00" r="1.35" fill="#f7941d" stroke="none" stroke-width="1.0"/>
<circle cx="355.90" cy="6.09" r="1.35" fill="#f7941d" stroke="none" stroke-width="1.0"/>
<circle cx="356.67" cy="3.12" r="1.35" fill="#f7941d" stroke="none" stroke-width="1.0"/>
<circle cx="358.93" cy="1.05" r="1.35" fill="#f7941d" stroke="none" stroke-width="1.0"/>
<circle cx="361.96" cy="0.54" r="1.35" fill="#f7941d" stroke="none" stroke-width="1.0"/>
<circle cx="364.77" cy="1.76" r="1.35" fill="#f7941d" stroke="none" stroke-width="1.0"/>
<circle cx="366.46" cy="4.32" r="1.35" fill="#f7941d" stroke="none" stroke-width="1.0"/>
<circle cx="366.49" cy="7.39" r="1.35" fill="#f7941d" stroke="none" stroke-width="1.0"/>
<circle cx="351.60" cy="67.90" r="1.35" fill="#17a59e" stroke="none" stroke-width="1.0"/>
<circle cx="351.60" cy="71.87" r="1.35" fill="#17a59e" stroke="none" stroke-width="1.0"/>
<circle cx="351.60" cy="75.84" r="1.35" fill="#17a59e" stroke="none" stroke-width="1.0"/>
<circle cx="351.60" cy="79.81" r="1.35" fill="#17a59e" stroke="none" stroke-width="1.0"/>
<circle cx="351.60" cy="83.79" r="1.35" fill="#17a59e" stroke="none" stroke-width="1.0"/>
<circle cx="351.60" cy="87.76" r="1.35" fill="#17a59e" stroke="none" stroke-width="1.0"/>
<circle cx="351.60" cy="91.73" r="1.35" fill="#17a59e" stroke="none" stroke-width="1.0"/>
<circle cx="351.60" cy="95.70" r="1.35" fill="#17a59e" stroke="none" stroke-width="1.0"/>
<circle cx="358.10" cy="67.90" r="1.35" fill="#17a59e" stroke="none" stroke-width="1.0"/>
<circle cx="358.10" cy="71.87" r="1.35" fill="#17a59e" stroke="none" stroke-width="1.0"/>
<circle cx="358.10" cy="75.84" r="1.35" fill="#17a59e" stroke="none" stroke-width="1.0"/>
<circle cx="358.10" cy="79.81" r="1.35" fill="#17a59e" stroke="none" stroke-width="1.0"/>
<circle cx="358.10" cy="83.79" r="1.35" fill="#17a59e" stroke="none" stroke-width="1.0"/>
<circle cx="358.10" cy="87.76" r="1.35" fill="#17a59e" stroke="none" stroke-width="1.0"/>
<circle cx="358.10" cy="91.73" r="1.35" fill="#17a59e" stroke="none" stroke-width="1.0"/>
<circle cx="358.10" cy="95.70" r="1.35" fill="#17a59e" stroke="none" stroke-width="1.0"/>
<circle cx="364.70" cy="61.00" r="1.35" fill="#17a59e" stroke="none" stroke-width="1.0"/>
<circle cx="361.20" cy="66.60" r="1.35" fill="#17a59e" stroke="none" stroke-width="1.0"/>
<circle cx="368.20" cy="60.30" r="1.35" fill="#222" stroke="none" stroke-width="1.0"/>
<circle cx="371.50" cy="61.30" r="1.35" fill="#222" stroke="none" stroke-width="1.0"/>
<circle cx="374.20" cy="64.30" r="1.35" fill="#222" stroke="none" stroke-width="1.0"/>
<circle cx="374.70" cy="67.80" r="1.35" fill="#222" stroke="none" stroke-width="1.0"/>
<circle cx="361.70" cy="69.80" r="1.35" fill="#f7941d" stroke="none" stroke-width="1.0"/>
<circle cx="364.20" cy="72.50" r="1.35" fill="#f7941d" stroke="none" stroke-width="1.0"/>
<circle cx="367.20" cy="73.40" r="1.35" fill="#17a59e" stroke="none" stroke-width="1.0"/>
<circle cx="368.68" cy="76.45" r="1.35" fill="#17a59e" stroke="none" stroke-width="1.0"/>
<circle cx="370.17" cy="79.50" r="1.35" fill="#17a59e" stroke="none" stroke-width="1.0"/>
<circle cx="371.65" cy="82.55" r="1.35" fill="#17a59e" stroke="none" stroke-width="1.0"/>
<circle cx="373.13" cy="85.60" r="1.35" fill="#17a59e" stroke="none" stroke-width="1.0"/>
<circle cx="374.62" cy="88.65" r="1.35" fill="#17a59e" stroke="none" stroke-width="1.0"/>
<circle cx="376.10" cy="91.70" r="1.35" fill="#17a59e" stroke="none" stroke-width="1.0"/>
<circle cx="373.20" cy="70.90" r="1.35" fill="#17a59e" stroke="none" stroke-width="1.0"/>
<circle cx="374.68" cy="73.88" r="1.35" fill="#17a59e" stroke="none" stroke-width="1.0"/>
<circle cx="376.17" cy="76.87" r="1.35" fill="#17a59e" stroke="none" stroke-width="1.0"/>
<circle cx="377.65" cy="79.85" r="1.35" fill="#17a59e" stroke="none" stroke-width="1.0"/>
<circle cx="379.13" cy="82.83" r="1.35" fill="#17a59e" stroke="none" stroke-width="1.0"/>
<circle cx="380.62" cy="85.82" r="1.35" fill="#17a59e" stroke="none" stroke-width="1.0"/>
<circle cx="382.10" cy="88.80" r="1.35" fill="#17a59e" stroke="none" stroke-width="1.0"/>
<circle cx="376.10" cy="95.20" r="1.35" fill="#f7941d" stroke="none" stroke-width="1.0"/>
<circle cx="378.60" cy="97.70" r="1.35" fill="#f7941d" stroke="none" stroke-width="1.0"/>
<circle cx="382.10" cy="97.50" r="1.35" fill="#f7941d" stroke="none" stroke-width="1.0"/>
<circle cx="384.60" cy="94.70" r="1.35" fill="#f7941d" stroke="none" stroke-width="1.0"/>
<circle cx="384.60" cy="91.20" r="1.35" fill="#f7941d" stroke="none" stroke-width="1.0"/>
</svg>
</body></html>
